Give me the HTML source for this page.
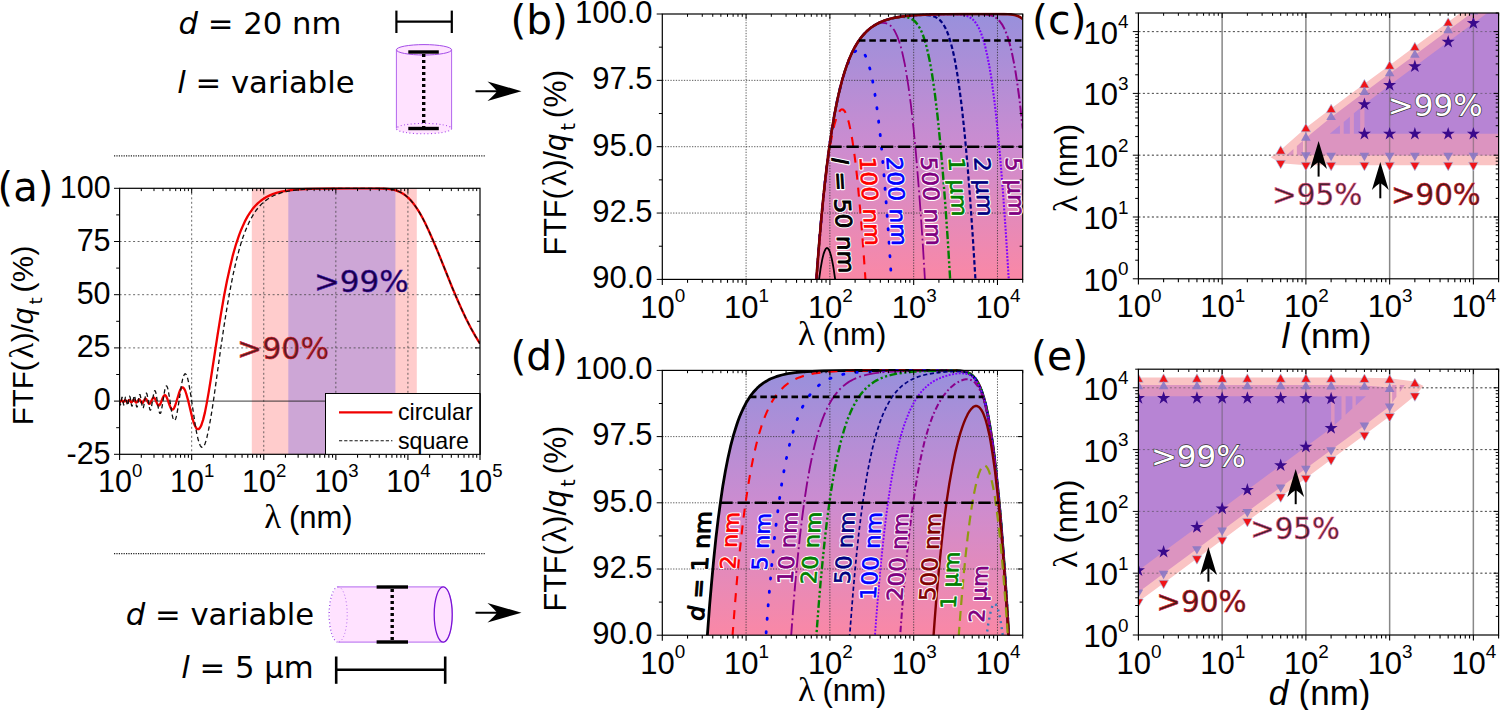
<!DOCTYPE html>
<html><head><meta charset="utf-8"><title>figure</title><style>html,body{margin:0;padding:0;background:#fff}svg{display:block}</style></head><body>
<svg width="1500" height="710" viewBox="0 0 1500 710">
<rect width="1500" height="710" fill="#fff"/>
<text x="178.60" y="34.20" font-family='"DejaVu Sans", "Liberation Sans", sans-serif' font-size="30.7" text-anchor="start" fill="#000" ><tspan font-style="italic">d</tspan> = 20 nm</text>
<text x="177.20" y="93.20" font-family='"DejaVu Sans", "Liberation Sans", sans-serif' font-size="30.7" text-anchor="start" fill="#000" ><tspan font-style="italic">l</tspan> = variable</text>
<line x1="396.40" y1="21.60" x2="451.80" y2="21.60" stroke="#000" stroke-width="2.2" />
<line x1="396.40" y1="10.60" x2="396.40" y2="33.00" stroke="#000" stroke-width="2.2" />
<line x1="451.80" y1="10.60" x2="451.80" y2="33.00" stroke="#000" stroke-width="2.2" />
<path d="M396.4,49.8 L396.4,128.6 A27.6,5.2 0 0 0 451.6,128.6 L451.6,49.8 A27.6,5.2 0 0 0 396.4,49.8Z" fill="#ffe2ff"/>
<line x1="396.40" y1="49.80" x2="396.40" y2="128.60" stroke="#b266ee" stroke-width="1" />
<line x1="451.60" y1="49.80" x2="451.60" y2="128.60" stroke="#b266ee" stroke-width="1" />
<ellipse cx="424" cy="49.8" rx="27.6" ry="5.2" fill="#ffe2ff" stroke="#a34de8" stroke-width="1"/>
<ellipse cx="424" cy="128.6" rx="27.6" ry="5.2" fill="none" stroke="#a040e8" stroke-width="1.1" stroke-dasharray="1 2.5"/>
<line x1="408.30" y1="52.00" x2="438.80" y2="52.00" stroke="#000" stroke-width="3.4" />
<line x1="408.30" y1="128.50" x2="438.80" y2="128.50" stroke="#000" stroke-width="3.4" />
<line x1="423.70" y1="54.00" x2="423.70" y2="127.00" stroke="#000" stroke-width="3.4" stroke-dasharray="3 3"/>
<line x1="475.5" y1="91.2" x2="509.5" y2="91.2" stroke="#000" stroke-width="2.1"/>
<path d="M521.5,91.2 L487.5,81.4 Q494.5,87.7 497.0,91.2 Q494.5,94.7 487.5,101.0 Z" fill="#000"/>
<line x1="114.00" y1="155.80" x2="485.00" y2="155.80" stroke="#222" stroke-width="1.2" stroke-dasharray="1.2 1.2"/>
<line x1="114.00" y1="553.60" x2="485.00" y2="553.60" stroke="#222" stroke-width="1.2" stroke-dasharray="1.2 1.2"/>
<text x="314.20" y="624.50" font-family='"DejaVu Sans", "Liberation Sans", sans-serif' font-size="30.7" text-anchor="end" fill="#000" ><tspan font-style="italic">d</tspan> = variable</text>
<text x="313.70" y="677.90" font-family='"DejaVu Sans", "Liberation Sans", sans-serif' font-size="30.7" text-anchor="end" fill="#000" ><tspan font-style="italic">l</tspan> = 5 &#181;m</text>
<path d="M338.2,586.9 L443.2,586.9 A9,27.600000000000023 0 0 1 443.2,642.1 L338.2,642.1 A9,27.600000000000023 0 0 1 338.2,586.9Z" fill="#ffe2ff" stroke="#b266ee" stroke-width="1"/>
<path d="M338.2,586.9 A9,27.600000000000023 0 0 1 338.2,642.1" fill="none" stroke="#b266ee" stroke-width="1" stroke-dasharray="1 2.5"/>
<path d="M338.2,586.9 A9,27.600000000000023 0 0 0 338.2,642.1" fill="none" stroke="#fff" stroke-width="1.6"/>
<path d="M338.2,586.9 A9,27.600000000000023 0 0 0 338.2,642.1" fill="none" stroke="#9a3ae6" stroke-width="1.2" stroke-dasharray="1 2.5"/>
<ellipse cx="443.2" cy="614.5" rx="9" ry="27.600000000000023" fill="#ffe2ff" stroke="#7a14d6" stroke-width="1.3"/>
<line x1="376.60" y1="587.00" x2="408.00" y2="587.00" stroke="#000" stroke-width="3.4" />
<line x1="376.60" y1="642.00" x2="408.00" y2="642.00" stroke="#000" stroke-width="3.4" />
<line x1="392.20" y1="589.00" x2="392.20" y2="640.00" stroke="#000" stroke-width="3.4" stroke-dasharray="3 3"/>
<line x1="336.20" y1="669.80" x2="445.20" y2="669.80" stroke="#000" stroke-width="2.6" />
<line x1="336.20" y1="656.50" x2="336.20" y2="683.80" stroke="#000" stroke-width="2.6" />
<line x1="445.20" y1="656.50" x2="445.20" y2="683.80" stroke="#000" stroke-width="2.6" />
<line x1="475.5" y1="612.7" x2="509.5" y2="612.7" stroke="#000" stroke-width="2.1"/>
<path d="M521.5,612.7 L487.5,602.9000000000001 Q494.5,609.2 497.0,612.7 Q494.5,616.2 487.5,622.5 Z" fill="#000"/>
<rect x="251.8" y="188.3" width="165.0" height="266.0" fill="#ffcccc"/>
<rect x="288.3" y="188.3" width="107.1" height="266.0" fill="#cda6d6"/>
<line x1="191.68" y1="188.30" x2="191.68" y2="454.30" stroke="#444" stroke-width="0.8" stroke-dasharray="2 2.5"/>
<line x1="263.76" y1="188.30" x2="263.76" y2="454.30" stroke="#444" stroke-width="0.8" stroke-dasharray="2 2.5"/>
<line x1="335.84" y1="188.30" x2="335.84" y2="454.30" stroke="#444" stroke-width="0.8" stroke-dasharray="2 2.5"/>
<line x1="407.92" y1="188.30" x2="407.92" y2="454.30" stroke="#444" stroke-width="0.8" stroke-dasharray="2 2.5"/>
<line x1="119.60" y1="241.50" x2="480.00" y2="241.50" stroke="#444" stroke-width="0.8" stroke-dasharray="2 2.5"/>
<line x1="119.60" y1="294.70" x2="480.00" y2="294.70" stroke="#444" stroke-width="0.8" stroke-dasharray="2 2.5"/>
<line x1="119.60" y1="347.90" x2="480.00" y2="347.90" stroke="#444" stroke-width="0.8" stroke-dasharray="2 2.5"/>
<line x1="119.60" y1="401.10" x2="480.00" y2="401.10" stroke="#222" stroke-width="0.9" />
<clipPath id="ca"><rect x="119.6" y="187.3" width="360.4" height="268.0"/></clipPath>
<g clip-path="url(#ca)">
<path d="M119.6,401.6 119.9,401.8 120.1,401.8 120.4,401.6 121.1,400.6 121.4,400.4 121.7,400.3 121.9,400.5 122.2,400.7 122.9,401.7 123.2,401.9 123.5,401.9 124.0,401.5 124.8,400.4 125.0,400.2 125.3,400.2 125.8,400.6 126.6,401.7 127.1,402.1 127.3,402.0 127.6,401.8 128.6,400.4 129.1,400.0 129.4,400.1 129.6,400.3 130.9,402.1 131.2,402.3 131.5,402.3 132.0,401.9 133.3,400.0 133.5,399.8 133.8,399.8 134.3,400.1 135.8,402.4 136.1,402.6 136.3,402.6 136.6,402.5 137.1,402.0 138.4,399.8 138.9,399.4 139.2,399.4 139.4,399.5 140.0,400.1 141.5,402.7 142.0,403.1 142.3,403.1 142.5,403.0 143.0,402.4 144.3,400.0 144.8,399.2 145.4,398.8 145.6,398.7 146.1,399.0 146.6,399.7 148.5,403.2 149.0,403.8 149.5,403.9 150.0,403.6 150.5,402.9 152.3,399.1 152.8,398.2 153.3,397.7 153.9,397.6 154.4,397.9 155.2,399.1 157.0,403.3 157.7,404.7 158.2,405.3 158.5,405.5 159.0,405.5 159.5,405.2 160.3,404.0 161.1,402.2 162.6,398.2 163.4,396.5 164.2,395.5 164.7,395.2 164.9,395.2 165.2,395.2 165.7,395.6 166.2,396.3 166.7,397.4 167.5,399.3 169.6,405.3 170.6,407.7 171.1,408.6 171.6,409.2 172.2,409.6 172.7,409.6 173.2,409.3 173.7,408.7 174.2,407.8 175.0,406.0 176.0,403.0 178.9,393.5 180.1,390.1 180.9,388.7 181.7,387.7 182.5,387.4 183.0,387.5 183.7,388.1 184.5,389.3 185.3,391.0 186.3,394.0 187.9,399.6 192.2,417.6 193.5,422.0 194.6,424.9 195.9,427.5 196.6,428.5 197.1,429.0 197.9,429.2 198.4,429.2 198.9,428.9 199.7,428.1 200.5,426.9 201.3,425.3 202.0,423.2 203.1,419.9 204.9,412.6 206.9,402.4 208.7,392.1 210.5,381.0 217.5,335.5 220.6,316.1 223.9,296.8 227.0,280.7 229.9,267.7 232.9,255.1 236.0,244.3 239.1,235.1 241.2,229.7 243.3,224.9 245.3,220.6 247.6,216.4 250.0,212.7 252.5,209.1 255.1,206.0 257.7,203.4 260.5,201.0 263.3,198.9 266.4,197.0 269.8,195.4 273.4,193.9 277.3,192.7 281.4,191.7 286.0,190.8 291.9,190.0 298.6,189.4 306.4,189.0 315.9,188.7 329.8,188.5 349.6,188.3 373.3,188.3 382.6,188.5 386.5,188.7 389.8,189.1 392.9,189.6 395.8,190.4 398.3,191.3 400.9,192.5 403.5,194.0 405.8,195.7 408.4,197.9 410.7,200.3 413.0,203.0 415.3,206.1 417.7,209.6 420.0,213.4 422.3,217.5 424.9,222.5 429.0,231.2 433.6,241.7 438.3,252.9 452.4,288.0 457.1,299.0 461.2,308.3 466.1,318.7 470.7,327.8 475.4,336.1 480.0,343.7" fill="none" stroke="#f00000" stroke-width="2.3" stroke-linejoin="round"/>
<path d="M119.6,401.1 120.1,404.0 120.4,404.6 120.6,404.2 120.9,403.1 121.7,398.4 121.9,397.5 122.2,397.5 122.4,398.3 123.5,404.4 123.7,404.9 124.0,404.8 124.2,403.8 125.3,397.7 125.5,397.1 125.8,397.1 126.0,397.9 126.3,399.2 127.1,404.1 127.3,405.1 127.6,405.5 127.8,405.1 128.1,404.2 129.1,397.9 129.4,396.8 129.6,396.4 129.9,396.7 130.2,397.5 131.5,405.1 131.7,405.9 132.0,406.1 132.2,405.7 132.5,404.8 133.8,397.0 134.0,396.1 134.3,395.7 134.5,395.9 134.8,396.6 136.3,405.6 136.6,406.5 136.9,407.0 137.1,406.9 137.4,406.3 137.6,405.3 139.2,396.0 139.4,395.1 139.7,394.7 140.0,394.7 140.2,395.2 140.7,397.4 141.8,404.1 142.3,406.8 142.5,407.7 142.8,408.2 143.0,408.2 143.3,407.8 143.8,405.9 145.6,395.0 146.1,393.4 146.4,393.1 146.6,393.3 146.9,393.8 147.4,395.8 149.0,405.6 149.5,408.2 150.0,409.8 150.3,410.1 150.5,410.1 150.8,409.7 151.0,409.0 151.5,406.8 153.1,396.9 153.9,392.8 154.4,391.2 154.6,390.8 154.9,390.7 155.2,390.9 155.4,391.3 155.7,392.1 156.2,394.3 158.2,407.3 159.0,411.2 159.5,412.8 159.8,413.2 160.0,413.4 160.3,413.4 160.6,413.1 161.1,411.8 161.8,408.3 164.2,393.4 164.9,389.4 165.7,386.8 166.2,386.1 166.5,386.0 166.7,386.1 167.3,387.0 167.8,388.6 168.3,390.8 169.3,396.7 171.4,410.3 172.4,415.9 172.9,417.9 173.4,419.4 174.0,420.3 174.2,420.5 174.5,420.5 174.7,420.4 175.0,420.2 175.2,419.8 175.8,418.5 176.3,416.7 177.0,413.1 178.1,407.1 181.2,386.7 181.9,382.5 182.7,378.9 183.5,376.3 184.3,374.5 184.8,373.9 185.0,373.8 185.5,373.9 185.8,374.1 186.3,374.8 187.1,376.6 187.9,379.3 188.9,384.0 190.7,394.6 195.3,425.4 196.6,432.6 197.9,438.6 198.7,441.4 199.5,443.8 200.2,445.5 200.7,446.3 201.3,446.9 202.0,447.3 202.3,447.3 202.8,447.1 203.6,446.4 204.4,445.1 205.1,443.4 205.9,441.1 206.9,437.4 208.7,429.2 210.5,419.3 212.1,409.7 213.9,397.6 220.8,348.0 223.9,326.8 227.3,305.7 230.4,288.3 233.2,274.1 236.3,260.5 239.4,248.8 240.9,243.6 242.7,238.0 244.8,232.3 246.9,227.2 249.2,222.1 251.5,217.7 253.8,213.8 256.4,210.0 259.0,206.8 261.5,204.1 264.4,201.5 267.5,199.2 270.6,197.3 273.9,195.5 277.5,194.1 281.6,192.7 286.0,191.7 290.7,190.8 296.3,190.0 303.0,189.4 310.7,189.0 319.8,188.7 333.4,188.5 353.0,188.3 374.1,188.3 382.9,188.5 386.7,188.7 390.1,189.1 393.2,189.7 396.0,190.5 398.6,191.4 401.2,192.6 403.7,194.2 406.1,195.9 408.4,197.9 410.7,200.3 413.0,203.0 415.3,206.1 417.7,209.6 420.0,213.4 422.3,217.5 424.9,222.5 429.0,231.2 433.6,241.7 438.3,252.9 452.4,288.0 457.1,299.0 461.2,308.3 466.1,318.7 470.7,327.8 475.4,336.1 480.0,343.7" fill="none" stroke="#111" stroke-width="1.3" stroke-dasharray="4.5 3"/>
</g>
<rect x="119.6" y="188.3" width="360.4" height="266.0" fill="none" stroke="#000" stroke-width="1.2"/>
<line x1="119.60" y1="454.30" x2="119.60" y2="459.90" stroke="#000" stroke-width="1.1" />
<line x1="141.30" y1="454.30" x2="141.30" y2="457.70" stroke="#000" stroke-width="1.1" />
<line x1="141.30" y1="188.30" x2="141.30" y2="191.10" stroke="#000" stroke-width="1" />
<line x1="153.99" y1="454.30" x2="153.99" y2="457.70" stroke="#000" stroke-width="1.1" />
<line x1="153.99" y1="188.30" x2="153.99" y2="191.10" stroke="#000" stroke-width="1" />
<line x1="163.00" y1="454.30" x2="163.00" y2="457.70" stroke="#000" stroke-width="1.1" />
<line x1="163.00" y1="188.30" x2="163.00" y2="191.10" stroke="#000" stroke-width="1" />
<line x1="169.98" y1="454.30" x2="169.98" y2="457.70" stroke="#000" stroke-width="1.1" />
<line x1="169.98" y1="188.30" x2="169.98" y2="191.10" stroke="#000" stroke-width="1" />
<line x1="175.69" y1="454.30" x2="175.69" y2="457.70" stroke="#000" stroke-width="1.1" />
<line x1="175.69" y1="188.30" x2="175.69" y2="191.10" stroke="#000" stroke-width="1" />
<line x1="180.51" y1="454.30" x2="180.51" y2="457.70" stroke="#000" stroke-width="1.1" />
<line x1="180.51" y1="188.30" x2="180.51" y2="191.10" stroke="#000" stroke-width="1" />
<line x1="184.69" y1="454.30" x2="184.69" y2="457.70" stroke="#000" stroke-width="1.1" />
<line x1="184.69" y1="188.30" x2="184.69" y2="191.10" stroke="#000" stroke-width="1" />
<line x1="188.38" y1="454.30" x2="188.38" y2="457.70" stroke="#000" stroke-width="1.1" />
<line x1="188.38" y1="188.30" x2="188.38" y2="191.10" stroke="#000" stroke-width="1" />
<line x1="191.68" y1="454.30" x2="191.68" y2="459.90" stroke="#000" stroke-width="1.1" />
<line x1="191.68" y1="188.30" x2="191.68" y2="193.30" stroke="#000" stroke-width="1" />
<line x1="213.38" y1="454.30" x2="213.38" y2="457.70" stroke="#000" stroke-width="1.1" />
<line x1="213.38" y1="188.30" x2="213.38" y2="191.10" stroke="#000" stroke-width="1" />
<line x1="226.07" y1="454.30" x2="226.07" y2="457.70" stroke="#000" stroke-width="1.1" />
<line x1="226.07" y1="188.30" x2="226.07" y2="191.10" stroke="#000" stroke-width="1" />
<line x1="235.08" y1="454.30" x2="235.08" y2="457.70" stroke="#000" stroke-width="1.1" />
<line x1="235.08" y1="188.30" x2="235.08" y2="191.10" stroke="#000" stroke-width="1" />
<line x1="242.06" y1="454.30" x2="242.06" y2="457.70" stroke="#000" stroke-width="1.1" />
<line x1="242.06" y1="188.30" x2="242.06" y2="191.10" stroke="#000" stroke-width="1" />
<line x1="247.77" y1="454.30" x2="247.77" y2="457.70" stroke="#000" stroke-width="1.1" />
<line x1="247.77" y1="188.30" x2="247.77" y2="191.10" stroke="#000" stroke-width="1" />
<line x1="252.59" y1="454.30" x2="252.59" y2="457.70" stroke="#000" stroke-width="1.1" />
<line x1="252.59" y1="188.30" x2="252.59" y2="191.10" stroke="#000" stroke-width="1" />
<line x1="256.77" y1="454.30" x2="256.77" y2="457.70" stroke="#000" stroke-width="1.1" />
<line x1="256.77" y1="188.30" x2="256.77" y2="191.10" stroke="#000" stroke-width="1" />
<line x1="260.46" y1="454.30" x2="260.46" y2="457.70" stroke="#000" stroke-width="1.1" />
<line x1="260.46" y1="188.30" x2="260.46" y2="191.10" stroke="#000" stroke-width="1" />
<line x1="263.76" y1="454.30" x2="263.76" y2="459.90" stroke="#000" stroke-width="1.1" />
<line x1="263.76" y1="188.30" x2="263.76" y2="193.30" stroke="#000" stroke-width="1" />
<line x1="285.46" y1="454.30" x2="285.46" y2="457.70" stroke="#000" stroke-width="1.1" />
<line x1="285.46" y1="188.30" x2="285.46" y2="191.10" stroke="#000" stroke-width="1" />
<line x1="298.15" y1="454.30" x2="298.15" y2="457.70" stroke="#000" stroke-width="1.1" />
<line x1="298.15" y1="188.30" x2="298.15" y2="191.10" stroke="#000" stroke-width="1" />
<line x1="307.16" y1="454.30" x2="307.16" y2="457.70" stroke="#000" stroke-width="1.1" />
<line x1="307.16" y1="188.30" x2="307.16" y2="191.10" stroke="#000" stroke-width="1" />
<line x1="314.14" y1="454.30" x2="314.14" y2="457.70" stroke="#000" stroke-width="1.1" />
<line x1="314.14" y1="188.30" x2="314.14" y2="191.10" stroke="#000" stroke-width="1" />
<line x1="319.85" y1="454.30" x2="319.85" y2="457.70" stroke="#000" stroke-width="1.1" />
<line x1="319.85" y1="188.30" x2="319.85" y2="191.10" stroke="#000" stroke-width="1" />
<line x1="324.67" y1="454.30" x2="324.67" y2="457.70" stroke="#000" stroke-width="1.1" />
<line x1="324.67" y1="188.30" x2="324.67" y2="191.10" stroke="#000" stroke-width="1" />
<line x1="328.85" y1="454.30" x2="328.85" y2="457.70" stroke="#000" stroke-width="1.1" />
<line x1="328.85" y1="188.30" x2="328.85" y2="191.10" stroke="#000" stroke-width="1" />
<line x1="332.54" y1="454.30" x2="332.54" y2="457.70" stroke="#000" stroke-width="1.1" />
<line x1="332.54" y1="188.30" x2="332.54" y2="191.10" stroke="#000" stroke-width="1" />
<line x1="335.84" y1="454.30" x2="335.84" y2="459.90" stroke="#000" stroke-width="1.1" />
<line x1="335.84" y1="188.30" x2="335.84" y2="193.30" stroke="#000" stroke-width="1" />
<line x1="357.54" y1="454.30" x2="357.54" y2="457.70" stroke="#000" stroke-width="1.1" />
<line x1="357.54" y1="188.30" x2="357.54" y2="191.10" stroke="#000" stroke-width="1" />
<line x1="370.23" y1="454.30" x2="370.23" y2="457.70" stroke="#000" stroke-width="1.1" />
<line x1="370.23" y1="188.30" x2="370.23" y2="191.10" stroke="#000" stroke-width="1" />
<line x1="379.24" y1="454.30" x2="379.24" y2="457.70" stroke="#000" stroke-width="1.1" />
<line x1="379.24" y1="188.30" x2="379.24" y2="191.10" stroke="#000" stroke-width="1" />
<line x1="386.22" y1="454.30" x2="386.22" y2="457.70" stroke="#000" stroke-width="1.1" />
<line x1="386.22" y1="188.30" x2="386.22" y2="191.10" stroke="#000" stroke-width="1" />
<line x1="391.93" y1="454.30" x2="391.93" y2="457.70" stroke="#000" stroke-width="1.1" />
<line x1="391.93" y1="188.30" x2="391.93" y2="191.10" stroke="#000" stroke-width="1" />
<line x1="396.75" y1="454.30" x2="396.75" y2="457.70" stroke="#000" stroke-width="1.1" />
<line x1="396.75" y1="188.30" x2="396.75" y2="191.10" stroke="#000" stroke-width="1" />
<line x1="400.93" y1="454.30" x2="400.93" y2="457.70" stroke="#000" stroke-width="1.1" />
<line x1="400.93" y1="188.30" x2="400.93" y2="191.10" stroke="#000" stroke-width="1" />
<line x1="404.62" y1="454.30" x2="404.62" y2="457.70" stroke="#000" stroke-width="1.1" />
<line x1="404.62" y1="188.30" x2="404.62" y2="191.10" stroke="#000" stroke-width="1" />
<line x1="407.92" y1="454.30" x2="407.92" y2="459.90" stroke="#000" stroke-width="1.1" />
<line x1="407.92" y1="188.30" x2="407.92" y2="193.30" stroke="#000" stroke-width="1" />
<line x1="429.62" y1="454.30" x2="429.62" y2="457.70" stroke="#000" stroke-width="1.1" />
<line x1="429.62" y1="188.30" x2="429.62" y2="191.10" stroke="#000" stroke-width="1" />
<line x1="442.31" y1="454.30" x2="442.31" y2="457.70" stroke="#000" stroke-width="1.1" />
<line x1="442.31" y1="188.30" x2="442.31" y2="191.10" stroke="#000" stroke-width="1" />
<line x1="451.32" y1="454.30" x2="451.32" y2="457.70" stroke="#000" stroke-width="1.1" />
<line x1="451.32" y1="188.30" x2="451.32" y2="191.10" stroke="#000" stroke-width="1" />
<line x1="458.30" y1="454.30" x2="458.30" y2="457.70" stroke="#000" stroke-width="1.1" />
<line x1="458.30" y1="188.30" x2="458.30" y2="191.10" stroke="#000" stroke-width="1" />
<line x1="464.01" y1="454.30" x2="464.01" y2="457.70" stroke="#000" stroke-width="1.1" />
<line x1="464.01" y1="188.30" x2="464.01" y2="191.10" stroke="#000" stroke-width="1" />
<line x1="468.83" y1="454.30" x2="468.83" y2="457.70" stroke="#000" stroke-width="1.1" />
<line x1="468.83" y1="188.30" x2="468.83" y2="191.10" stroke="#000" stroke-width="1" />
<line x1="473.01" y1="454.30" x2="473.01" y2="457.70" stroke="#000" stroke-width="1.1" />
<line x1="473.01" y1="188.30" x2="473.01" y2="191.10" stroke="#000" stroke-width="1" />
<line x1="476.70" y1="454.30" x2="476.70" y2="457.70" stroke="#000" stroke-width="1.1" />
<line x1="476.70" y1="188.30" x2="476.70" y2="191.10" stroke="#000" stroke-width="1" />
<line x1="480.00" y1="454.30" x2="480.00" y2="459.90" stroke="#000" stroke-width="1.1" />
<line x1="114.00" y1="188.30" x2="119.60" y2="188.30" stroke="#000" stroke-width="1" />
<line x1="116.20" y1="214.90" x2="119.60" y2="214.90" stroke="#000" stroke-width="1" />
<line x1="480.00" y1="214.90" x2="476.94" y2="214.90" stroke="#000" stroke-width="1" />
<line x1="114.00" y1="241.50" x2="119.60" y2="241.50" stroke="#000" stroke-width="1" />
<line x1="480.00" y1="241.50" x2="474.96" y2="241.50" stroke="#000" stroke-width="1" />
<line x1="116.20" y1="268.10" x2="119.60" y2="268.10" stroke="#000" stroke-width="1" />
<line x1="480.00" y1="268.10" x2="476.94" y2="268.10" stroke="#000" stroke-width="1" />
<line x1="114.00" y1="294.70" x2="119.60" y2="294.70" stroke="#000" stroke-width="1" />
<line x1="480.00" y1="294.70" x2="474.96" y2="294.70" stroke="#000" stroke-width="1" />
<line x1="116.20" y1="321.30" x2="119.60" y2="321.30" stroke="#000" stroke-width="1" />
<line x1="480.00" y1="321.30" x2="476.94" y2="321.30" stroke="#000" stroke-width="1" />
<line x1="114.00" y1="347.90" x2="119.60" y2="347.90" stroke="#000" stroke-width="1" />
<line x1="480.00" y1="347.90" x2="474.96" y2="347.90" stroke="#000" stroke-width="1" />
<line x1="116.20" y1="374.50" x2="119.60" y2="374.50" stroke="#000" stroke-width="1" />
<line x1="480.00" y1="374.50" x2="476.94" y2="374.50" stroke="#000" stroke-width="1" />
<line x1="114.00" y1="401.10" x2="119.60" y2="401.10" stroke="#000" stroke-width="1" />
<line x1="480.00" y1="401.10" x2="474.96" y2="401.10" stroke="#000" stroke-width="1" />
<line x1="116.20" y1="427.70" x2="119.60" y2="427.70" stroke="#000" stroke-width="1" />
<line x1="480.00" y1="427.70" x2="476.94" y2="427.70" stroke="#000" stroke-width="1" />
<line x1="114.00" y1="454.30" x2="119.60" y2="454.30" stroke="#000" stroke-width="1" />
<rect x="325.5" y="393.5" width="154.5" height="60.8" fill="#fff" stroke="#000" stroke-width="1"/>
<line x1="480.00" y1="393.50" x2="480.00" y2="454.30" stroke="#000" stroke-width="1.2" />
<line x1="339.00" y1="412.40" x2="392.40" y2="412.40" stroke="#f00000" stroke-width="2.2" />
<line x1="339.00" y1="440.80" x2="392.40" y2="440.80" stroke="#111" stroke-width="1.1" stroke-dasharray="3.2 2"/>
<text x="397.90" y="420.40" font-family='"Liberation Sans", Arial, sans-serif' font-size="23.2" text-anchor="start" fill="#000" >circular</text>
<text x="397.90" y="448.60" font-family='"Liberation Sans", Arial, sans-serif' font-size="23.2" text-anchor="start" fill="#000" >square</text>
<text x="110.60" y="197.60" font-family='"Liberation Sans", Arial, sans-serif' font-size="30.5" text-anchor="end" fill="#000" >100</text>
<text x="110.60" y="250.80" font-family='"Liberation Sans", Arial, sans-serif' font-size="30.5" text-anchor="end" fill="#000" >75</text>
<text x="110.60" y="304.00" font-family='"Liberation Sans", Arial, sans-serif' font-size="30.5" text-anchor="end" fill="#000" >50</text>
<text x="110.60" y="357.20" font-family='"Liberation Sans", Arial, sans-serif' font-size="30.5" text-anchor="end" fill="#000" >25</text>
<text x="110.60" y="410.40" font-family='"Liberation Sans", Arial, sans-serif' font-size="30.5" text-anchor="end" fill="#000" >0</text>
<text x="110.60" y="463.60" font-family='"Liberation Sans", Arial, sans-serif' font-size="30.5" text-anchor="end" fill="#000" >-25</text>
<text x="120.10" y="491.90" font-family='"Liberation Sans", Arial, sans-serif' font-size="30.5" text-anchor="middle" fill="#000">10<tspan font-size="18.6" dy="-15.2">0</tspan></text>
<text x="192.18" y="491.90" font-family='"Liberation Sans", Arial, sans-serif' font-size="30.5" text-anchor="middle" fill="#000">10<tspan font-size="18.6" dy="-15.2">1</tspan></text>
<text x="264.26" y="491.90" font-family='"Liberation Sans", Arial, sans-serif' font-size="30.5" text-anchor="middle" fill="#000">10<tspan font-size="18.6" dy="-15.2">2</tspan></text>
<text x="336.34" y="491.90" font-family='"Liberation Sans", Arial, sans-serif' font-size="30.5" text-anchor="middle" fill="#000">10<tspan font-size="18.6" dy="-15.2">3</tspan></text>
<text x="408.42" y="491.90" font-family='"Liberation Sans", Arial, sans-serif' font-size="30.5" text-anchor="middle" fill="#000">10<tspan font-size="18.6" dy="-15.2">4</tspan></text>
<text x="480.50" y="491.90" font-family='"Liberation Sans", Arial, sans-serif' font-size="30.5" text-anchor="middle" fill="#000">10<tspan font-size="18.6" dy="-15.2">5</tspan></text>
<text x="237.10" y="358.80" font-family='"DejaVu Sans", "Liberation Sans", sans-serif' font-size="30" text-anchor="start" fill="#5a1c22" stroke="#e02030" stroke-width="0.6">&gt;90%</text>
<text x="313.90" y="291.60" font-family='"DejaVu Sans", "Liberation Sans", sans-serif' font-size="31" text-anchor="start" fill="#160048" stroke="#4a18b0" stroke-width="0.55">&gt;99%</text>
<text x="-2.40" y="200.60" font-family='"DejaVu Sans", "Liberation Sans", sans-serif' font-size="40" text-anchor="start" fill="#000" >(a)</text>
<g transform="translate(33.20,425.20) rotate(-90)" font-family='"Liberation Sans", Arial, sans-serif' font-size="29.5" fill="#000"><text x="0" y="0">FTF(</text><text x="66.54" y="0" font-family='"Liberation Serif", "DejaVu Serif", serif' font-size="33.0">&#955;</text><text x="82.99" y="0">)/</text><text x="100.88" y="0" font-style="italic">q</text><text x="120.71" y="8.32" font-family='"DejaVu Sans", "Liberation Sans", sans-serif' font-size="18.3">t</text><text x="132.70" y="0" letter-spacing="0.5">(%)</text></g>
<g transform="translate(264.30,528.20) rotate(0)" font-family='"Liberation Sans", Arial, sans-serif' font-size="31" fill="#000"><text x="0" y="0" font-family='"Liberation Serif", "DejaVu Serif", serif' font-size="34.7">&#955;</text><text x="24.60" y="0">(nm)</text></g>
<linearGradient id="gb" gradientUnits="userSpaceOnUse" x1="0" y1="14.0" x2="0" y2="279.4"><stop offset="0" stop-color="#9890dc"/><stop offset="0.5" stop-color="#cc8cd0"/><stop offset="1" stop-color="#fa88a6"/></linearGradient>
<clipPath id="cb"><rect x="662.3" y="12.5" width="360.4000000000001" height="266.9"/></clipPath>
<g clip-path="url(#cb)">
<path d="M815.6,279.4 815.6,291.5 817.8,260.2 820.3,229.7 822.8,202.9 825.5,177.4 827.5,160.5 829.5,145.3 831.8,130.2 834.0,116.8 836.5,103.9 839.2,91.6 841.9,81.0 844.9,71.1 846.4,66.4 848.0,62.1 849.6,58.1 851.2,54.4 852.8,51.1 854.6,47.6 856.4,44.5 858.4,41.3 860.0,39.0 861.8,36.6 863.6,34.5 865.6,32.4 867.4,30.6 869.4,28.9 871.5,27.3 873.7,25.8 876.0,24.4 878.4,23.1 880.9,21.9 883.4,20.9 886.1,20.0 888.8,19.1 894.9,17.7 901.2,16.6 908.2,15.8 916.3,15.1 925.8,14.7 936.6,14.4 950.1,14.2 993.6,14.0 1006.5,14.2 1010.3,14.4 1013.2,14.8 1015.9,15.4 1018.4,16.3 1020.7,17.5 1022.7,19.0 1022.7,279.4Z" fill="url(#gb)"/>
<line x1="746.09" y1="14.00" x2="746.09" y2="279.40" stroke="#333" stroke-width="0.8" stroke-dasharray="1.3 1.4"/>
<line x1="829.89" y1="14.00" x2="829.89" y2="279.40" stroke="#333" stroke-width="0.8" stroke-dasharray="1.3 1.4"/>
<line x1="913.68" y1="14.00" x2="913.68" y2="279.40" stroke="#333" stroke-width="0.8" stroke-dasharray="1.3 1.4"/>
<line x1="997.48" y1="14.00" x2="997.48" y2="279.40" stroke="#333" stroke-width="0.8" stroke-dasharray="1.3 1.4"/>
<line x1="662.30" y1="80.35" x2="1022.70" y2="80.35" stroke="#333" stroke-width="0.8" stroke-dasharray="1.3 1.4"/>
<line x1="662.30" y1="146.70" x2="1022.70" y2="146.70" stroke="#333" stroke-width="0.8" stroke-dasharray="1.3 1.4"/>
<line x1="662.30" y1="213.05" x2="1022.70" y2="213.05" stroke="#333" stroke-width="0.8" stroke-dasharray="1.3 1.4"/>
<path d="M814.2,330.9 815.8,311.5 817.4,294.8 818.9,280.7 820.5,269.1 822.1,260.1 822.8,257.0 823.7,253.6 824.4,251.6 825.3,249.6 825.7,248.9 826.2,248.4 826.6,248.1 827.1,248.0 827.7,248.3 828.2,248.7 828.6,249.3 829.3,250.5 830.2,252.9 830.9,255.2 831.8,258.9 832.7,263.5 833.6,268.7 835.2,279.7 837.0,295.1 838.6,310.9 840.4,331.6" fill="none" stroke="#000" stroke-width="1.8" stroke-linejoin="round"/>
<path d="M813.1,330.5 814.7,305.3 816.5,278.8 818.0,257.7 819.8,235.6 821.7,215.6 823.5,197.6 825.3,181.4 827.1,166.9 828.9,154.1 830.9,141.6 832.9,131.2 834.7,123.6 835.9,119.6 836.8,116.9 837.7,114.6 838.6,112.7 839.5,111.2 840.4,110.2 841.3,109.5 842.2,109.4 843.1,109.6 844.0,110.3 844.9,111.5 845.5,112.7 846.4,114.7 847.3,117.2 848.9,122.7 850.7,130.9 852.3,139.9 853.9,150.5 855.5,162.7 857.3,178.8 858.8,194.8 860.4,212.4 862.0,231.8 863.6,252.9 865.2,275.7 868.5,330.1" fill="none" stroke="#ff0000" stroke-width="2.1" stroke-dasharray="9 8" stroke-linejoin="round"/>
<path d="M813.1,330.4 815.1,298.2 817.4,266.2 819.6,237.7 821.9,212.3 824.4,187.6 826.8,165.9 829.5,145.3 832.2,127.4 833.8,118.1 835.4,109.6 837.0,101.8 838.6,94.6 840.1,88.1 841.9,81.3 843.5,75.9 845.3,70.4 847.1,65.5 848.9,61.3 850.7,57.6 852.3,55.0 854.1,52.6 855.7,51.0 856.6,50.4 857.5,49.9 858.4,49.7 859.1,49.6 859.7,49.7 860.4,49.9 861.8,50.7 863.1,52.0 864.3,53.6 865.6,56.1 866.7,58.7 868.1,62.4 869.2,66.1 870.3,70.4 871.5,75.2 872.6,80.7 873.7,86.8 876.0,100.9 878.0,116.1 880.3,135.7 882.3,156.0 884.3,178.9 886.3,204.4 888.4,232.5 890.4,263.2 892.4,296.5 894.5,332.2" fill="none" stroke="#0000ff" stroke-width="2.8" stroke-dasharray="1.2 12.3" stroke-linecap="round" stroke-linejoin="round"/>
<path d="M813.1,330.4 815.8,288.2 818.5,251.5 821.4,217.1 823.0,200.7 824.6,185.5 826.2,171.5 827.7,158.7 829.3,146.9 831.1,134.5 832.9,123.3 834.7,113.1 836.5,103.9 838.6,94.5 840.6,86.1 842.6,78.6 844.9,71.1 847.1,64.5 849.4,58.6 851.9,53.0 854.3,48.0 857.0,43.3 860.0,39.0 863.1,35.0 866.3,31.7 869.7,28.8 871.5,27.4 873.3,26.2 875.1,25.2 876.9,24.4 878.7,23.7 880.3,23.2 881.8,22.9 883.2,22.8 885.4,23.1 887.5,23.7 889.3,24.7 891.1,26.2 892.9,28.3 894.5,30.6 896.0,33.6 897.6,37.2 899.2,41.5 900.5,45.9 901.9,50.9 903.2,56.7 904.6,63.2 905.9,70.5 908.4,86.1 910.9,104.9 913.4,127.1 915.9,152.8 918.1,179.5 920.4,209.2 922.9,245.6 925.3,285.8 927.8,329.7" fill="none" stroke="#8b008b" stroke-width="1.8" stroke-dasharray="16 3.2 1.8 3.2" stroke-linejoin="round"/>
<path d="M813.1,330.4 816.0,285.0 817.6,263.2 819.2,243.1 820.7,224.6 822.6,205.2 824.4,187.6 826.2,171.5 828.0,157.0 829.8,143.7 831.8,130.2 833.8,118.1 835.9,107.3 838.1,96.5 840.4,87.0 842.8,77.8 845.1,70.4 847.6,63.2 850.3,56.5 853.0,50.6 855.9,45.2 858.8,40.6 862.0,36.4 865.4,32.6 867.2,30.8 869.0,29.2 870.8,27.8 872.8,26.4 874.8,25.1 877.1,23.8 881.6,21.6 884.1,20.7 886.8,19.7 889.5,19.0 892.4,18.2 895.4,17.7 898.1,17.3 900.5,17.0 902.8,16.9 905.7,17.1 908.2,17.6 910.5,18.3 912.7,19.6 914.7,21.2 916.5,23.1 918.3,25.6 920.1,28.7 922.0,32.6 923.5,36.7 925.1,41.6 926.5,46.5 928.0,53.0 929.4,59.4 930.7,66.5 932.1,74.5 933.4,83.4 934.8,93.2 937.5,115.7 940.2,142.4 942.7,170.6 945.4,205.7 947.9,241.9 950.3,281.9 953.1,329.6" fill="none" stroke="#008000" stroke-width="2.4" stroke-dasharray="8.2 2.4 2.2 2.4 2.2 2.4" stroke-linejoin="round"/>
<path d="M813.1,330.4 814.7,305.1 816.5,278.6 818.0,257.3 819.8,235.0 821.7,214.7 823.5,196.2 825.5,177.4 827.5,160.5 829.5,145.3 831.8,130.2 834.0,116.8 836.3,105.0 838.6,94.5 841.0,84.3 843.7,74.7 846.4,66.4 849.1,59.2 852.1,52.5 855.0,46.8 858.2,41.6 859.7,39.3 861.5,36.9 863.3,34.8 865.2,32.8 867.0,31.0 869.0,29.2 871.0,27.6 873.0,26.2 875.1,24.9 877.3,23.6 879.6,22.5 882.1,21.4 884.5,20.5 887.2,19.6 892.9,18.1 899.4,16.9 906.6,15.9 915.2,15.2 922.9,14.9 926.9,15.1 930.1,15.4 933.0,16.1 935.5,17.1 937.7,18.4 939.8,20.0 941.8,22.3 943.6,24.8 945.4,28.0 947.2,32.0 948.8,36.2 950.3,41.2 951.9,47.0 953.3,52.7 954.9,60.2 956.2,67.6 957.8,77.2 959.1,86.4 960.7,98.3 962.1,109.6 964.8,135.3 967.5,165.2 970.2,199.7 972.9,238.6 975.6,282.1 978.3,329.9" fill="none" stroke="#000080" stroke-width="2.2" stroke-dasharray="4.5 2.5" stroke-linejoin="round"/>
<path d="M813.1,330.4 814.9,301.6 816.7,275.4 818.5,251.5 820.5,227.2 822.6,205.2 824.6,185.5 826.6,167.8 828.9,150.2 831.1,134.5 833.6,119.4 836.1,106.1 838.6,94.5 841.3,83.5 844.2,73.2 845.8,68.3 847.3,63.9 848.9,59.7 850.5,56.0 852.1,52.5 853.7,49.3 856.8,43.7 858.4,41.3 860.2,38.7 862.0,36.4 863.8,34.3 865.6,32.4 867.6,30.4 869.7,28.7 871.9,27.0 874.2,25.5 876.6,24.0 879.1,22.7 881.6,21.6 884.1,20.7 886.8,19.7 892.4,18.2 899.0,16.9 906.2,16.0 914.5,15.3 924.2,14.7 936.4,14.4 950.1,14.2 955.5,14.3 959.6,14.5 963.0,14.9 965.7,15.5 968.4,16.5 970.6,17.8 972.7,19.4 974.7,21.5 976.7,24.3 978.5,27.4 980.3,31.3 981.9,35.5 983.5,40.3 985.1,46.0 986.6,52.6 988.2,60.2 989.8,68.8 991.4,78.6 992.9,89.7 994.3,100.1 995.9,113.6 997.2,126.3 1000.2,157.4 1003.1,193.7 1005.8,232.0 1008.7,278.5 1011.7,330.1" fill="none" stroke="#8000ff" stroke-width="2.1" stroke-dasharray="1.9 1.5" stroke-linejoin="round"/>
<path d="M813.1,330.4 815.3,294.9 817.8,260.2 820.3,229.7 822.8,202.9 825.5,177.4 828.2,155.2 831.1,134.5 834.0,116.8 835.6,108.4 837.2,100.7 838.8,93.5 840.6,86.1 842.4,79.3 844.2,73.2 846.0,67.7 848.0,62.1 850.1,57.0 852.1,52.5 854.3,48.0 856.6,44.1 858.8,40.6 861.3,37.2 863.8,34.3 866.5,31.5 870.1,28.3 872.1,26.8 874.2,25.5 876.2,24.3 878.4,23.1 883.0,21.1 887.9,19.4 893.3,18.0 899.4,16.9 906.2,16.0 911.6,15.5 917.7,15.1 932.1,14.5 953.3,14.1 978.3,14.1 984.4,14.4 986.6,14.6 988.7,14.9 990.5,15.3 992.3,15.9 993.8,16.6 995.4,17.5 997.7,19.1 998.8,20.2 999.9,21.5 1002.0,24.3 1004.0,27.9 1005.8,31.9 1007.6,36.8 1009.2,41.9 1010.8,47.8 1012.3,54.7 1013.9,62.6 1015.5,71.6 1016.8,80.2 1018.4,91.5 1019.8,102.1 1021.3,115.8 1022.7,128.7" fill="none" stroke="#8b008b" stroke-width="2.0" stroke-dasharray="10.8 2.6 1.8 2.6" stroke-linejoin="round"/>
<path d="M813.1,330.4 815.1,298.2 817.1,269.2 819.4,240.4 821.7,214.7 823.9,191.8 826.4,169.6 828.9,150.2 831.6,131.6 834.3,115.6 837.2,100.7 838.8,93.5 840.4,87.0 841.9,81.0 843.5,75.5 845.1,70.4 846.9,65.1 848.7,60.3 850.5,56.0 852.3,52.0 854.3,48.0 856.4,44.5 858.4,41.3 860.2,38.7 862.2,36.1 864.3,33.8 866.5,31.5 868.8,29.4 871.2,27.5 873.7,25.8 876.2,24.3 878.9,22.8 881.6,21.6 884.5,20.5 887.7,19.5 891.1,18.5 894.5,17.8 898.1,17.1 902.1,16.5 908.7,15.7 915.9,15.2 924.2,14.7 934.1,14.4 946.5,14.2 962.5,14.1 993.2,14.0 1004.0,14.1 1007.8,14.2 1010.8,14.4 1013.2,14.8 1015.5,15.3 1017.5,15.9 1019.3,16.7 1021.1,17.8 1022.7,19.0" fill="none" stroke="#800000" stroke-width="2.6" stroke-linejoin="round"/>
<line x1="858.88" y1="40.54" x2="1022.70" y2="40.54" stroke="#000" stroke-width="2.6" stroke-dasharray="6.6 3.8"/>
<line x1="829.34" y1="146.70" x2="1022.70" y2="146.70" stroke="#000" stroke-width="2.5" stroke-dasharray="12.3 4.9"/>
</g>
<rect x="662.3" y="14.0" width="360.4" height="265.4" fill="none" stroke="#000" stroke-width="1.2"/>
<line x1="662.30" y1="279.40" x2="662.30" y2="285.00" stroke="#000" stroke-width="1.1" />
<line x1="687.52" y1="279.40" x2="687.52" y2="282.80" stroke="#000" stroke-width="1.1" />
<line x1="687.52" y1="14.00" x2="687.52" y2="16.80" stroke="#000" stroke-width="1" />
<line x1="702.28" y1="279.40" x2="702.28" y2="282.80" stroke="#000" stroke-width="1.1" />
<line x1="702.28" y1="14.00" x2="702.28" y2="16.80" stroke="#000" stroke-width="1" />
<line x1="712.75" y1="279.40" x2="712.75" y2="282.80" stroke="#000" stroke-width="1.1" />
<line x1="712.75" y1="14.00" x2="712.75" y2="16.80" stroke="#000" stroke-width="1" />
<line x1="720.87" y1="279.40" x2="720.87" y2="282.80" stroke="#000" stroke-width="1.1" />
<line x1="720.87" y1="14.00" x2="720.87" y2="16.80" stroke="#000" stroke-width="1" />
<line x1="727.50" y1="279.40" x2="727.50" y2="282.80" stroke="#000" stroke-width="1.1" />
<line x1="727.50" y1="14.00" x2="727.50" y2="16.80" stroke="#000" stroke-width="1" />
<line x1="733.11" y1="279.40" x2="733.11" y2="282.80" stroke="#000" stroke-width="1.1" />
<line x1="733.11" y1="14.00" x2="733.11" y2="16.80" stroke="#000" stroke-width="1" />
<line x1="737.97" y1="279.40" x2="737.97" y2="282.80" stroke="#000" stroke-width="1.1" />
<line x1="737.97" y1="14.00" x2="737.97" y2="16.80" stroke="#000" stroke-width="1" />
<line x1="742.26" y1="279.40" x2="742.26" y2="282.80" stroke="#000" stroke-width="1.1" />
<line x1="742.26" y1="14.00" x2="742.26" y2="16.80" stroke="#000" stroke-width="1" />
<line x1="746.09" y1="279.40" x2="746.09" y2="285.00" stroke="#000" stroke-width="1.1" />
<line x1="746.09" y1="14.00" x2="746.09" y2="19.00" stroke="#000" stroke-width="1" />
<line x1="771.32" y1="279.40" x2="771.32" y2="282.80" stroke="#000" stroke-width="1.1" />
<line x1="771.32" y1="14.00" x2="771.32" y2="16.80" stroke="#000" stroke-width="1" />
<line x1="786.07" y1="279.40" x2="786.07" y2="282.80" stroke="#000" stroke-width="1.1" />
<line x1="786.07" y1="14.00" x2="786.07" y2="16.80" stroke="#000" stroke-width="1" />
<line x1="796.54" y1="279.40" x2="796.54" y2="282.80" stroke="#000" stroke-width="1.1" />
<line x1="796.54" y1="14.00" x2="796.54" y2="16.80" stroke="#000" stroke-width="1" />
<line x1="804.66" y1="279.40" x2="804.66" y2="282.80" stroke="#000" stroke-width="1.1" />
<line x1="804.66" y1="14.00" x2="804.66" y2="16.80" stroke="#000" stroke-width="1" />
<line x1="811.30" y1="279.40" x2="811.30" y2="282.80" stroke="#000" stroke-width="1.1" />
<line x1="811.30" y1="14.00" x2="811.30" y2="16.80" stroke="#000" stroke-width="1" />
<line x1="816.91" y1="279.40" x2="816.91" y2="282.80" stroke="#000" stroke-width="1.1" />
<line x1="816.91" y1="14.00" x2="816.91" y2="16.80" stroke="#000" stroke-width="1" />
<line x1="821.77" y1="279.40" x2="821.77" y2="282.80" stroke="#000" stroke-width="1.1" />
<line x1="821.77" y1="14.00" x2="821.77" y2="16.80" stroke="#000" stroke-width="1" />
<line x1="826.05" y1="279.40" x2="826.05" y2="282.80" stroke="#000" stroke-width="1.1" />
<line x1="826.05" y1="14.00" x2="826.05" y2="16.80" stroke="#000" stroke-width="1" />
<line x1="829.89" y1="279.40" x2="829.89" y2="285.00" stroke="#000" stroke-width="1.1" />
<line x1="829.89" y1="14.00" x2="829.89" y2="19.00" stroke="#000" stroke-width="1" />
<line x1="855.11" y1="279.40" x2="855.11" y2="282.80" stroke="#000" stroke-width="1.1" />
<line x1="855.11" y1="14.00" x2="855.11" y2="16.80" stroke="#000" stroke-width="1" />
<line x1="869.87" y1="279.40" x2="869.87" y2="282.80" stroke="#000" stroke-width="1.1" />
<line x1="869.87" y1="14.00" x2="869.87" y2="16.80" stroke="#000" stroke-width="1" />
<line x1="880.34" y1="279.40" x2="880.34" y2="282.80" stroke="#000" stroke-width="1.1" />
<line x1="880.34" y1="14.00" x2="880.34" y2="16.80" stroke="#000" stroke-width="1" />
<line x1="888.46" y1="279.40" x2="888.46" y2="282.80" stroke="#000" stroke-width="1.1" />
<line x1="888.46" y1="14.00" x2="888.46" y2="16.80" stroke="#000" stroke-width="1" />
<line x1="895.09" y1="279.40" x2="895.09" y2="282.80" stroke="#000" stroke-width="1.1" />
<line x1="895.09" y1="14.00" x2="895.09" y2="16.80" stroke="#000" stroke-width="1" />
<line x1="900.70" y1="279.40" x2="900.70" y2="282.80" stroke="#000" stroke-width="1.1" />
<line x1="900.70" y1="14.00" x2="900.70" y2="16.80" stroke="#000" stroke-width="1" />
<line x1="905.56" y1="279.40" x2="905.56" y2="282.80" stroke="#000" stroke-width="1.1" />
<line x1="905.56" y1="14.00" x2="905.56" y2="16.80" stroke="#000" stroke-width="1" />
<line x1="909.85" y1="279.40" x2="909.85" y2="282.80" stroke="#000" stroke-width="1.1" />
<line x1="909.85" y1="14.00" x2="909.85" y2="16.80" stroke="#000" stroke-width="1" />
<line x1="913.68" y1="279.40" x2="913.68" y2="285.00" stroke="#000" stroke-width="1.1" />
<line x1="913.68" y1="14.00" x2="913.68" y2="19.00" stroke="#000" stroke-width="1" />
<line x1="938.91" y1="279.40" x2="938.91" y2="282.80" stroke="#000" stroke-width="1.1" />
<line x1="938.91" y1="14.00" x2="938.91" y2="16.80" stroke="#000" stroke-width="1" />
<line x1="953.66" y1="279.40" x2="953.66" y2="282.80" stroke="#000" stroke-width="1.1" />
<line x1="953.66" y1="14.00" x2="953.66" y2="16.80" stroke="#000" stroke-width="1" />
<line x1="964.13" y1="279.40" x2="964.13" y2="282.80" stroke="#000" stroke-width="1.1" />
<line x1="964.13" y1="14.00" x2="964.13" y2="16.80" stroke="#000" stroke-width="1" />
<line x1="972.25" y1="279.40" x2="972.25" y2="282.80" stroke="#000" stroke-width="1.1" />
<line x1="972.25" y1="14.00" x2="972.25" y2="16.80" stroke="#000" stroke-width="1" />
<line x1="978.89" y1="279.40" x2="978.89" y2="282.80" stroke="#000" stroke-width="1.1" />
<line x1="978.89" y1="14.00" x2="978.89" y2="16.80" stroke="#000" stroke-width="1" />
<line x1="984.50" y1="279.40" x2="984.50" y2="282.80" stroke="#000" stroke-width="1.1" />
<line x1="984.50" y1="14.00" x2="984.50" y2="16.80" stroke="#000" stroke-width="1" />
<line x1="989.36" y1="279.40" x2="989.36" y2="282.80" stroke="#000" stroke-width="1.1" />
<line x1="989.36" y1="14.00" x2="989.36" y2="16.80" stroke="#000" stroke-width="1" />
<line x1="993.64" y1="279.40" x2="993.64" y2="282.80" stroke="#000" stroke-width="1.1" />
<line x1="993.64" y1="14.00" x2="993.64" y2="16.80" stroke="#000" stroke-width="1" />
<line x1="997.48" y1="279.40" x2="997.48" y2="285.00" stroke="#000" stroke-width="1.1" />
<line x1="997.48" y1="14.00" x2="997.48" y2="19.00" stroke="#000" stroke-width="1" />
<line x1="1022.70" y1="279.40" x2="1022.70" y2="282.80" stroke="#000" stroke-width="1.1" />
<line x1="1022.70" y1="14.00" x2="1022.70" y2="16.80" stroke="#000" stroke-width="1" />
<line x1="656.70" y1="14.00" x2="662.30" y2="14.00" stroke="#000" stroke-width="1" />
<line x1="658.90" y1="47.17" x2="662.30" y2="47.17" stroke="#000" stroke-width="1" />
<line x1="1022.70" y1="47.17" x2="1019.64" y2="47.17" stroke="#000" stroke-width="1" />
<line x1="656.70" y1="80.35" x2="662.30" y2="80.35" stroke="#000" stroke-width="1" />
<line x1="1022.70" y1="80.35" x2="1017.66" y2="80.35" stroke="#000" stroke-width="1" />
<line x1="658.90" y1="113.52" x2="662.30" y2="113.52" stroke="#000" stroke-width="1" />
<line x1="1022.70" y1="113.52" x2="1019.64" y2="113.52" stroke="#000" stroke-width="1" />
<line x1="656.70" y1="146.70" x2="662.30" y2="146.70" stroke="#000" stroke-width="1" />
<line x1="1022.70" y1="146.70" x2="1017.66" y2="146.70" stroke="#000" stroke-width="1" />
<line x1="658.90" y1="179.87" x2="662.30" y2="179.87" stroke="#000" stroke-width="1" />
<line x1="1022.70" y1="179.87" x2="1019.64" y2="179.87" stroke="#000" stroke-width="1" />
<line x1="656.70" y1="213.05" x2="662.30" y2="213.05" stroke="#000" stroke-width="1" />
<line x1="1022.70" y1="213.05" x2="1017.66" y2="213.05" stroke="#000" stroke-width="1" />
<line x1="658.90" y1="246.22" x2="662.30" y2="246.22" stroke="#000" stroke-width="1" />
<line x1="1022.70" y1="246.22" x2="1019.64" y2="246.22" stroke="#000" stroke-width="1" />
<line x1="656.70" y1="279.40" x2="662.30" y2="279.40" stroke="#000" stroke-width="1" />
<text x="652.60" y="22.80" font-family='"Liberation Sans", Arial, sans-serif' font-size="31" text-anchor="end" fill="#000" >100.0</text>
<text x="652.60" y="89.15" font-family='"Liberation Sans", Arial, sans-serif' font-size="31" text-anchor="end" fill="#000" >97.5</text>
<text x="652.60" y="155.50" font-family='"Liberation Sans", Arial, sans-serif' font-size="31" text-anchor="end" fill="#000" >95.0</text>
<text x="652.60" y="221.85" font-family='"Liberation Sans", Arial, sans-serif' font-size="31" text-anchor="end" fill="#000" >92.5</text>
<text x="652.60" y="288.20" font-family='"Liberation Sans", Arial, sans-serif' font-size="31" text-anchor="end" fill="#000" >90.0</text>
<text x="662.80" y="317.90" font-family='"Liberation Sans", Arial, sans-serif' font-size="31" text-anchor="middle" fill="#000">10<tspan font-size="18.9" dy="-15.5">0</tspan></text>
<text x="746.59" y="317.90" font-family='"Liberation Sans", Arial, sans-serif' font-size="31" text-anchor="middle" fill="#000">10<tspan font-size="18.9" dy="-15.5">1</tspan></text>
<text x="830.39" y="317.90" font-family='"Liberation Sans", Arial, sans-serif' font-size="31" text-anchor="middle" fill="#000">10<tspan font-size="18.9" dy="-15.5">2</tspan></text>
<text x="914.18" y="317.90" font-family='"Liberation Sans", Arial, sans-serif' font-size="31" text-anchor="middle" fill="#000">10<tspan font-size="18.9" dy="-15.5">3</tspan></text>
<text x="997.98" y="317.90" font-family='"Liberation Sans", Arial, sans-serif' font-size="31" text-anchor="middle" fill="#000">10<tspan font-size="18.9" dy="-15.5">4</tspan></text>
<text transform="translate(831.60 157.50) skewX(3.7) rotate(90) scale(1.055 1)" font-family='"DejaVu Sans", "Liberation Sans", sans-serif' font-size="22.2" fill="#fff" stroke="#fff" stroke-width="2.9" stroke-linejoin="round"><tspan font-style="italic">l</tspan> = 50 nm</text>
<text transform="translate(831.60 157.50) skewX(3.7) rotate(90) scale(1.055 1)" font-family='"DejaVu Sans", "Liberation Sans", sans-serif' font-size="22.2" fill="#000" stroke="#000" stroke-width="0.9" stroke-linejoin="round"><tspan font-style="italic">l</tspan> = 50 nm</text>
<text transform="translate(859.60 156.50) skewX(3.7) rotate(90) scale(1.055 1)" font-family='"DejaVu Sans", "Liberation Sans", sans-serif' font-size="22.1" fill="#fff" stroke="#fff" stroke-width="2.6" stroke-linejoin="round">100 nm</text>
<text transform="translate(859.60 156.50) skewX(3.7) rotate(90) scale(1.055 1)" font-family='"DejaVu Sans", "Liberation Sans", sans-serif' font-size="22.1" fill="#ff0000" stroke="#ff0000" stroke-width="0.6" stroke-linejoin="round">100 nm</text>
<text transform="translate(886.20 156.50) skewX(3.7) rotate(90) scale(1.055 1)" font-family='"DejaVu Sans", "Liberation Sans", sans-serif' font-size="22.1" fill="#fff" stroke="#fff" stroke-width="2.6" stroke-linejoin="round">200 nm</text>
<text transform="translate(886.20 156.50) skewX(3.7) rotate(90) scale(1.055 1)" font-family='"DejaVu Sans", "Liberation Sans", sans-serif' font-size="22.1" fill="#0000ff" stroke="#0000ff" stroke-width="0.6" stroke-linejoin="round">200 nm</text>
<text transform="translate(920.80 156.50) skewX(3.7) rotate(90) scale(1.055 1)" font-family='"DejaVu Sans", "Liberation Sans", sans-serif' font-size="22.1" fill="#fff" stroke="#fff" stroke-width="2.6" stroke-linejoin="round">500 nm</text>
<text transform="translate(920.80 156.50) skewX(3.7) rotate(90) scale(1.055 1)" font-family='"DejaVu Sans", "Liberation Sans", sans-serif' font-size="22.1" fill="#800080" stroke="#800080" stroke-width="0.6" stroke-linejoin="round">500 nm</text>
<text transform="translate(948.40 157.00) skewX(3.7) rotate(90) scale(1.055 1)" font-family='"DejaVu Sans", "Liberation Sans", sans-serif' font-size="22.1" fill="#fff" stroke="#fff" stroke-width="2.6" stroke-linejoin="round">1 &#181;m</text>
<text transform="translate(948.40 157.00) skewX(3.7) rotate(90) scale(1.055 1)" font-family='"DejaVu Sans", "Liberation Sans", sans-serif' font-size="22.1" fill="#008000" stroke="#008000" stroke-width="0.6" stroke-linejoin="round">1 &#181;m</text>
<text transform="translate(974.00 157.00) skewX(3.7) rotate(90) scale(1.055 1)" font-family='"DejaVu Sans", "Liberation Sans", sans-serif' font-size="22.1" fill="#fff" stroke="#fff" stroke-width="2.6" stroke-linejoin="round">2 &#181;m</text>
<text transform="translate(974.00 157.00) skewX(3.7) rotate(90) scale(1.055 1)" font-family='"DejaVu Sans", "Liberation Sans", sans-serif' font-size="22.1" fill="#000080" stroke="#000080" stroke-width="0.6" stroke-linejoin="round">2 &#181;m</text>
<text transform="translate(1005.60 157.00) skewX(3.7) rotate(90) scale(1.055 1)" font-family='"DejaVu Sans", "Liberation Sans", sans-serif' font-size="22.1" fill="#fff" stroke="#fff" stroke-width="2.6" stroke-linejoin="round">5 &#181;m</text>
<text transform="translate(1005.60 157.00) skewX(3.7) rotate(90) scale(1.055 1)" font-family='"DejaVu Sans", "Liberation Sans", sans-serif' font-size="22.1" fill="#800080" stroke="#800080" stroke-width="0.6" stroke-linejoin="round">5 &#181;m</text>
<text x="510.50" y="34.00" font-family='"DejaVu Sans", "Liberation Sans", sans-serif' font-size="40.5" text-anchor="start" fill="#000" >(b)</text>
<g transform="translate(566.00,255.40) rotate(-90)" font-family='"Liberation Sans", Arial, sans-serif' font-size="30.5" fill="#000"><text x="0" y="0">FTF(</text><text x="68.80" y="0" font-family='"Liberation Serif", "DejaVu Serif", serif' font-size="34.2">&#955;</text><text x="85.80" y="0">)/</text><text x="104.30" y="0" font-style="italic">q</text><text x="124.80" y="8.60" font-family='"DejaVu Sans", "Liberation Sans", sans-serif' font-size="18.9">t</text><text x="137.20" y="0" letter-spacing="0.5">(%)</text></g>
<g transform="translate(797.90,344.70) rotate(0)" font-family='"Liberation Sans", Arial, sans-serif' font-size="31" fill="#000"><text x="0" y="0" font-family='"Liberation Serif", "DejaVu Serif", serif' font-size="34.7">&#955;</text><text x="24.60" y="0">(nm)</text></g>
<linearGradient id="gd" gradientUnits="userSpaceOnUse" x1="0" y1="370.4" x2="0" y2="635.2"><stop offset="0" stop-color="#9890dc"/><stop offset="0.5" stop-color="#cc8cd0"/><stop offset="1" stop-color="#fa88a6"/></linearGradient>
<clipPath id="cd"><rect x="662.3" y="368.9" width="360.4000000000001" height="266.30000000000007"/></clipPath>
<g clip-path="url(#cd)">
<path d="M706.5,635.2 706.5,648.3 709.0,614.1 711.4,583.9 714.1,555.1 717.1,528.2 719.3,510.1 721.6,494.1 724.1,478.6 726.5,465.0 729.5,451.0 732.4,439.1 734.0,433.5 735.6,428.3 737.1,423.5 738.7,419.1 740.3,415.1 742.1,410.9 743.9,407.1 745.9,403.2 747.7,400.2 749.8,397.0 751.8,394.2 754.0,391.5 755.8,389.5 757.9,387.5 759.9,385.7 761.9,384.1 764.2,382.5 766.4,381.1 768.7,379.8 771.2,378.6 773.6,377.6 776.3,376.6 779.3,375.7 782.2,374.9 788.7,373.5 796.0,372.5 803.2,371.8 811.5,371.3 821.2,370.9 833.1,370.7 864.7,370.4 936.1,370.4 952.8,370.5 956.9,370.6 960.0,370.8 963.0,371.2 965.7,371.8 967.9,372.6 970.0,373.7 972.2,375.3 974.2,377.3 976.0,379.6 977.8,382.5 979.7,386.1 981.2,389.9 982.8,394.5 984.4,399.8 986.0,405.9 987.5,413.1 989.1,421.2 990.7,430.5 992.3,441.0 993.6,451.0 995.2,463.9 996.6,476.0 998.4,493.8 999.9,510.9 1001.5,529.6 1003.1,549.7 1006.2,594.7 1009.4,645.7 1009.4,635.2Z" fill="url(#gd)"/>
<line x1="746.09" y1="370.40" x2="746.09" y2="635.20" stroke="#333" stroke-width="0.8" stroke-dasharray="1.3 1.4"/>
<line x1="829.89" y1="370.40" x2="829.89" y2="635.20" stroke="#333" stroke-width="0.8" stroke-dasharray="1.3 1.4"/>
<line x1="913.68" y1="370.40" x2="913.68" y2="635.20" stroke="#333" stroke-width="0.8" stroke-dasharray="1.3 1.4"/>
<line x1="997.48" y1="370.40" x2="997.48" y2="635.20" stroke="#333" stroke-width="0.8" stroke-dasharray="1.3 1.4"/>
<line x1="662.30" y1="436.60" x2="1022.70" y2="436.60" stroke="#333" stroke-width="0.8" stroke-dasharray="1.3 1.4"/>
<line x1="662.30" y1="502.80" x2="1022.70" y2="502.80" stroke="#333" stroke-width="0.8" stroke-dasharray="1.3 1.4"/>
<line x1="662.30" y1="569.00" x2="1022.70" y2="569.00" stroke="#333" stroke-width="0.8" stroke-dasharray="1.3 1.4"/>
<path d="M704.0,687.2 705.8,658.5 707.6,632.2 709.6,605.4 711.7,581.3 713.7,559.6 715.9,538.1 718.2,518.9 720.5,501.9 722.9,485.4 725.4,470.9 727.9,458.3 730.6,446.2 733.5,435.1 736.5,425.5 738.0,421.0 739.6,416.8 741.2,413.0 743.0,409.0 744.6,405.8 746.1,402.8 747.7,400.2 749.5,397.4 751.3,394.8 753.1,392.5 755.2,390.2 757.2,388.1 759.2,386.2 761.2,384.6 763.5,382.9 765.8,381.5 768.2,380.1 770.7,378.8 773.4,377.7 776.1,376.7 778.8,375.8 781.8,375.0 787.8,373.7 794.8,372.6 802.9,371.8 812.0,371.3 823.0,370.9 836.5,370.6 854.3,370.5 947.4,370.4 955.5,370.5 960.7,370.9 963.9,371.4 966.6,372.1 969.1,373.2 971.3,374.6 973.3,376.4 975.4,378.7 977.2,381.3 978.7,384.2 980.1,387.1 981.2,389.9 982.6,393.8 983.7,397.4 986.0,405.9 988.2,416.4 990.2,427.8 992.3,441.0 994.3,456.3 996.3,473.9 998.4,493.8 1000.2,513.5 1002.2,538.0 1004.0,561.9 1005.8,587.9 1007.8,619.4 1009.6,649.6 1011.7,685.8" fill="none" stroke="#000" stroke-width="2.8" stroke-linejoin="round"/>
<path d="M729.2,686.9 731.0,658.2 732.8,632.0 734.9,605.2 736.9,581.1 738.9,559.4 741.2,537.9 743.4,518.7 745.7,501.7 748.2,485.3 750.7,470.8 753.4,457.1 756.1,445.2 759.0,434.2 761.9,424.8 763.5,420.3 765.3,415.6 766.9,411.9 768.7,408.0 771.8,402.0 773.4,399.4 775.2,396.7 777.0,394.2 778.8,392.0 780.9,389.7 782.9,387.7 784.9,385.8 787.2,384.0 789.4,382.5 791.7,381.1 794.2,379.7 796.6,378.5 799.3,377.4 802.0,376.4 807.7,374.8 814.0,373.5 821.2,372.5 829.3,371.7 838.6,371.2 849.8,370.8 863.8,370.6 882.5,370.5 950.6,370.4 958.0,370.6 960.7,370.9 963.0,371.2 965.9,371.9 968.6,373.0 970.9,374.3 973.1,376.1 975.1,378.4 976.9,381.0 978.7,384.2 980.6,388.2 981.7,391.1 982.8,394.5 985.1,402.3 987.3,412.0 989.3,422.5 991.4,434.9 993.2,447.6 995.2,463.9 997.0,480.3 998.8,498.5 1000.6,518.7 1002.4,540.9 1004.2,565.1 1006.0,591.2 1007.8,619.4 1009.6,649.6 1011.7,685.8" fill="none" stroke="#ff0000" stroke-width="2.1" stroke-dasharray="9 8" stroke-linejoin="round"/>
<path d="M762.6,686.7 764.4,658.0 766.2,631.8 768.2,605.0 770.3,581.0 772.3,559.3 774.5,537.8 776.8,518.6 779.1,501.7 781.5,485.2 784.0,470.7 786.7,457.0 789.4,445.2 792.4,434.2 795.3,424.7 796.9,420.3 798.7,415.6 800.2,411.8 802.0,408.0 803.6,404.8 805.4,401.6 807.0,399.0 808.8,396.3 810.6,393.9 812.4,391.7 814.4,389.4 816.5,387.4 818.5,385.6 820.7,383.9 823.0,382.3 825.3,380.9 827.7,379.6 830.2,378.4 832.9,377.3 835.9,376.3 841.5,374.7 847.8,373.5 855.0,372.5 863.3,371.7 872.8,371.2 884.1,370.8 898.3,370.6 917.4,370.5 947.0,370.4 956.2,370.6 959.8,370.8 962.7,371.2 965.2,371.7 967.5,372.5 968.8,373.1 970.2,373.8 972.4,375.5 974.5,377.6 976.5,380.3 978.3,383.3 980.1,387.1 981.9,391.8 983.5,396.6 985.5,404.1 987.5,413.1 989.3,422.5 991.1,433.4 992.9,445.9 994.8,460.0 996.6,476.0 998.1,491.4 999.9,510.9 1001.5,529.6 1003.3,552.7 1004.9,574.6 1008.3,626.8 1011.7,685.8" fill="none" stroke="#0000ff" stroke-width="2.8" stroke-dasharray="1.2 12.3" stroke-linecap="round" stroke-linejoin="round"/>
<path d="M787.8,686.4 789.6,657.7 791.7,628.4 793.7,602.0 795.7,578.2 797.8,556.8 800.0,535.6 802.3,516.7 804.5,499.9 807.0,483.7 809.5,469.4 812.2,455.9 814.9,444.2 817.8,433.3 820.7,424.0 822.3,419.6 824.1,415.0 825.7,411.3 827.5,407.5 829.1,404.4 830.9,401.2 832.5,398.6 834.3,396.0 836.1,393.6 837.9,391.4 839.9,389.2 841.9,387.2 844.0,385.4 846.2,383.7 848.5,382.1 850.7,380.8 853.2,379.5 855.7,378.3 858.4,377.2 861.3,376.2 864.3,375.3 867.2,374.6 873.5,373.4 880.7,372.4 889.0,371.7 898.5,371.2 910.0,370.8 924.4,370.6 943.4,370.5 951.3,370.5 956.2,370.6 960.0,370.8 963.2,371.3 966.1,372.0 968.6,373.0 970.9,374.3 972.9,375.9 974.9,378.1 976.9,381.0 978.7,384.2 980.6,388.2 982.4,393.1 983.9,398.2 985.5,404.1 987.1,410.9 988.9,420.0 990.5,429.1 992.0,439.4 993.6,451.0 995.2,463.9 996.8,478.1 998.4,493.8 999.7,508.4 1002.6,543.8 1005.6,584.5 1008.5,630.5 1011.7,685.8" fill="none" stroke="#8b008b" stroke-width="1.9" stroke-dasharray="15.5 3.2 1.9 3.2" stroke-linejoin="round"/>
<path d="M813.1,686.1 814.9,657.4 816.7,631.2 818.5,607.4 820.5,583.1 822.6,561.2 824.6,541.5 826.6,523.8 828.9,506.3 831.1,490.7 833.6,475.6 836.1,462.3 838.6,450.7 841.3,439.7 844.2,429.5 845.8,424.6 847.3,420.1 848.9,416.0 850.5,412.3 852.1,408.8 853.7,405.6 856.8,400.0 858.4,397.6 860.2,395.0 862.0,392.7 863.8,390.6 865.6,388.7 867.6,386.8 869.7,385.1 871.9,383.4 874.2,381.8 876.6,380.4 879.1,379.1 881.6,378.0 884.1,377.0 886.8,376.1 892.4,374.6 899.0,373.3 906.2,372.4 914.5,371.6 924.2,371.1 936.4,370.8 950.1,370.6 955.5,370.7 959.6,370.9 963.0,371.3 965.7,371.9 968.4,372.9 970.6,374.2 972.7,375.8 974.7,377.9 976.7,380.7 978.5,383.8 980.3,387.7 981.9,391.8 983.5,396.7 985.1,402.3 986.6,408.9 988.2,416.5 989.8,425.1 991.4,434.9 992.9,445.9 994.3,456.3 995.9,469.8 997.2,482.4 1000.2,513.5 1003.1,549.7 1005.8,587.9 1008.7,634.3 1011.7,685.8" fill="none" stroke="#008000" stroke-width="2.4" stroke-dasharray="7.7 2.5 2.2 2.5 2.2 2.5" stroke-linejoin="round"/>
<path d="M846.4,685.8 848.0,660.6 849.8,634.2 851.4,613.0 853.2,590.7 855.0,570.5 856.8,552.1 858.8,533.3 860.9,516.4 862.9,501.3 865.2,486.3 867.4,472.9 869.7,461.1 871.9,450.7 874.4,440.5 877.1,430.9 879.8,422.6 882.5,415.4 885.4,408.8 888.4,403.1 891.5,397.9 893.1,395.6 894.9,393.3 896.7,391.1 898.5,389.2 900.3,387.4 902.3,385.6 904.4,384.0 906.4,382.6 908.4,381.3 910.7,380.0 912.9,378.9 915.4,377.8 917.9,376.9 920.6,376.0 926.2,374.5 932.8,373.3 940.2,372.3 948.8,371.6 956.4,371.3 960.5,371.5 963.6,371.8 966.4,372.5 968.8,373.5 971.1,374.8 973.1,376.4 975.1,378.7 976.9,381.2 978.7,384.4 980.6,388.4 982.1,392.6 983.7,397.6 985.3,403.3 986.6,409.0 988.2,416.6 989.6,423.9 991.1,433.5 992.5,442.7 994.1,454.6 995.4,465.9 998.1,491.5 1000.8,521.4 1003.5,555.8 1006.2,594.7 1009.0,638.1 1011.7,685.8" fill="none" stroke="#000080" stroke-width="1.7" stroke-dasharray="4.2 2.6" stroke-linejoin="round"/>
<path d="M871.7,685.5 874.6,640.3 876.2,618.6 877.8,598.6 879.4,580.2 881.2,560.9 883.0,543.3 884.8,527.3 886.6,512.8 888.4,499.6 890.4,486.1 892.4,474.1 894.5,463.3 896.7,452.6 899.0,443.1 901.4,433.9 903.7,426.6 906.2,419.5 908.9,412.7 911.6,406.9 914.5,401.5 917.4,396.9 920.6,392.7 924.0,388.9 925.8,387.2 927.6,385.6 929.4,384.2 931.4,382.7 933.4,381.4 935.7,380.1 940.2,378.0 942.7,377.0 945.4,376.1 948.1,375.3 951.0,374.6 954.0,374.1 956.7,373.6 959.1,373.4 961.4,373.3 964.3,373.5 966.8,374.0 969.1,374.7 971.3,376.0 973.3,377.6 975.1,379.5 976.9,382.0 978.7,385.1 980.6,389.0 982.1,393.2 983.7,398.1 985.1,402.9 986.6,409.5 988.0,415.8 989.3,423.0 990.7,431.0 992.0,439.9 993.4,449.7 996.1,472.2 998.8,498.8 1001.3,527.1 1004.0,562.1 1006.5,598.3 1009.0,638.2 1011.7,685.9" fill="none" stroke="#8000ff" stroke-width="1.9" stroke-dasharray="1.9 1.5" stroke-linejoin="round"/>
<path d="M896.9,685.2 899.6,643.3 902.3,606.7 905.3,572.5 906.8,556.1 908.4,541.0 910.0,527.2 911.6,514.4 913.2,502.6 915.0,490.3 916.8,479.2 918.6,469.0 920.4,459.8 922.4,450.5 924.4,442.1 926.5,434.6 928.7,427.2 931.0,420.6 933.2,414.8 935.7,409.2 938.2,404.3 940.9,399.6 943.8,395.3 947.0,391.3 950.3,387.8 953.7,384.9 955.5,383.6 957.3,382.5 959.1,381.5 960.9,380.6 962.7,380.0 964.3,379.5 965.9,379.3 967.3,379.2 968.4,379.3 969.5,379.5 971.5,380.2 973.3,381.3 975.1,382.8 976.9,385.0 978.5,387.5 980.1,390.5 981.5,393.7 983.0,398.0 984.4,402.4 985.7,407.5 987.1,413.2 988.4,419.7 989.8,427.0 992.3,442.7 994.8,461.5 997.2,483.7 999.7,509.5 1002.0,536.1 1004.2,565.9 1006.7,602.3 1009.2,642.5 1011.7,686.3" fill="none" stroke="#8b008b" stroke-width="2.0" stroke-dasharray="6.4 2.6 1.7 2.6" stroke-linejoin="round"/>
<path d="M930.3,685.0 932.3,653.0 934.6,621.2 936.8,592.8 939.1,567.6 941.6,543.0 944.0,521.4 946.7,500.9 949.4,483.2 952.4,466.6 954.0,458.8 955.5,451.6 957.1,445.0 958.9,438.1 960.5,432.7 962.3,427.1 964.1,422.2 965.9,417.9 967.7,414.2 969.3,411.5 971.1,409.1 972.7,407.5 973.6,406.8 974.5,406.3 975.4,406.0 976.0,406.0 976.7,406.0 977.4,406.2 978.7,406.9 980.1,408.2 981.2,409.7 982.6,412.1 983.7,414.6 985.1,418.2 986.2,421.9 987.3,426.0 988.4,430.8 989.6,436.1 990.7,442.1 992.9,456.0 995.0,471.0 997.2,490.3 999.3,510.4 1001.3,533.0 1003.3,558.2 1005.3,586.1 1007.4,616.5 1009.4,649.5 1011.4,685.0" fill="none" stroke="#800000" stroke-width="2.4" stroke-linejoin="round"/>
<path d="M955.5,684.8 957.1,659.7 958.9,633.5 960.5,612.5 962.3,590.5 964.1,570.7 965.9,552.8 967.7,536.7 969.5,522.3 971.3,509.6 973.3,497.3 975.4,486.9 977.2,479.4 978.3,475.5 979.2,472.8 980.1,470.6 981.0,468.7 981.9,467.3 982.8,466.3 983.7,465.7 984.6,465.5 985.5,465.8 986.4,466.6 987.3,467.8 988.0,469.0 988.9,471.1 989.8,473.6 991.4,479.2 993.2,487.5 994.8,496.5 996.3,507.2 997.9,519.5 999.7,535.7 1001.3,551.6 1002.9,569.4 1004.4,588.8 1006.0,609.9 1007.6,632.7 1011.0,687.2" fill="none" stroke="#909a10" stroke-width="2.2" stroke-dasharray="10 6" stroke-linejoin="round"/>
<path d="M981.9,685.2 983.5,666.1 985.1,649.5 986.6,635.6 988.2,624.3 989.8,615.5 990.5,612.4 991.4,609.1 992.0,607.2 992.9,605.3 993.4,604.6 993.8,604.2 994.3,603.9 994.8,603.9 995.4,604.2 995.9,604.7 996.3,605.3 997.0,606.6 997.9,609.1 998.6,611.5 999.5,615.3 1000.4,619.9 1001.3,625.2 1002.9,636.3 1004.4,649.8 1006.0,665.4 1007.8,685.8" fill="none" stroke="#3a7ab8" stroke-width="2.4" stroke-dasharray="2 4" stroke-linejoin="round"/>
<line x1="749.86" y1="396.88" x2="983.55" y2="396.88" stroke="#000" stroke-width="2.6" stroke-dasharray="6.6 3.8"/>
<line x1="720.36" y1="502.80" x2="999.20" y2="502.80" stroke="#000" stroke-width="2.5" stroke-dasharray="12.3 4.9"/>
</g>
<rect x="662.3" y="370.4" width="360.4" height="264.8" fill="none" stroke="#000" stroke-width="1.2"/>
<line x1="662.30" y1="635.20" x2="662.30" y2="640.80" stroke="#000" stroke-width="1.1" />
<line x1="687.52" y1="635.20" x2="687.52" y2="638.60" stroke="#000" stroke-width="1.1" />
<line x1="687.52" y1="370.40" x2="687.52" y2="373.20" stroke="#000" stroke-width="1" />
<line x1="702.28" y1="635.20" x2="702.28" y2="638.60" stroke="#000" stroke-width="1.1" />
<line x1="702.28" y1="370.40" x2="702.28" y2="373.20" stroke="#000" stroke-width="1" />
<line x1="712.75" y1="635.20" x2="712.75" y2="638.60" stroke="#000" stroke-width="1.1" />
<line x1="712.75" y1="370.40" x2="712.75" y2="373.20" stroke="#000" stroke-width="1" />
<line x1="720.87" y1="635.20" x2="720.87" y2="638.60" stroke="#000" stroke-width="1.1" />
<line x1="720.87" y1="370.40" x2="720.87" y2="373.20" stroke="#000" stroke-width="1" />
<line x1="727.50" y1="635.20" x2="727.50" y2="638.60" stroke="#000" stroke-width="1.1" />
<line x1="727.50" y1="370.40" x2="727.50" y2="373.20" stroke="#000" stroke-width="1" />
<line x1="733.11" y1="635.20" x2="733.11" y2="638.60" stroke="#000" stroke-width="1.1" />
<line x1="733.11" y1="370.40" x2="733.11" y2="373.20" stroke="#000" stroke-width="1" />
<line x1="737.97" y1="635.20" x2="737.97" y2="638.60" stroke="#000" stroke-width="1.1" />
<line x1="737.97" y1="370.40" x2="737.97" y2="373.20" stroke="#000" stroke-width="1" />
<line x1="742.26" y1="635.20" x2="742.26" y2="638.60" stroke="#000" stroke-width="1.1" />
<line x1="742.26" y1="370.40" x2="742.26" y2="373.20" stroke="#000" stroke-width="1" />
<line x1="746.09" y1="635.20" x2="746.09" y2="640.80" stroke="#000" stroke-width="1.1" />
<line x1="746.09" y1="370.40" x2="746.09" y2="375.40" stroke="#000" stroke-width="1" />
<line x1="771.32" y1="635.20" x2="771.32" y2="638.60" stroke="#000" stroke-width="1.1" />
<line x1="771.32" y1="370.40" x2="771.32" y2="373.20" stroke="#000" stroke-width="1" />
<line x1="786.07" y1="635.20" x2="786.07" y2="638.60" stroke="#000" stroke-width="1.1" />
<line x1="786.07" y1="370.40" x2="786.07" y2="373.20" stroke="#000" stroke-width="1" />
<line x1="796.54" y1="635.20" x2="796.54" y2="638.60" stroke="#000" stroke-width="1.1" />
<line x1="796.54" y1="370.40" x2="796.54" y2="373.20" stroke="#000" stroke-width="1" />
<line x1="804.66" y1="635.20" x2="804.66" y2="638.60" stroke="#000" stroke-width="1.1" />
<line x1="804.66" y1="370.40" x2="804.66" y2="373.20" stroke="#000" stroke-width="1" />
<line x1="811.30" y1="635.20" x2="811.30" y2="638.60" stroke="#000" stroke-width="1.1" />
<line x1="811.30" y1="370.40" x2="811.30" y2="373.20" stroke="#000" stroke-width="1" />
<line x1="816.91" y1="635.20" x2="816.91" y2="638.60" stroke="#000" stroke-width="1.1" />
<line x1="816.91" y1="370.40" x2="816.91" y2="373.20" stroke="#000" stroke-width="1" />
<line x1="821.77" y1="635.20" x2="821.77" y2="638.60" stroke="#000" stroke-width="1.1" />
<line x1="821.77" y1="370.40" x2="821.77" y2="373.20" stroke="#000" stroke-width="1" />
<line x1="826.05" y1="635.20" x2="826.05" y2="638.60" stroke="#000" stroke-width="1.1" />
<line x1="826.05" y1="370.40" x2="826.05" y2="373.20" stroke="#000" stroke-width="1" />
<line x1="829.89" y1="635.20" x2="829.89" y2="640.80" stroke="#000" stroke-width="1.1" />
<line x1="829.89" y1="370.40" x2="829.89" y2="375.40" stroke="#000" stroke-width="1" />
<line x1="855.11" y1="635.20" x2="855.11" y2="638.60" stroke="#000" stroke-width="1.1" />
<line x1="855.11" y1="370.40" x2="855.11" y2="373.20" stroke="#000" stroke-width="1" />
<line x1="869.87" y1="635.20" x2="869.87" y2="638.60" stroke="#000" stroke-width="1.1" />
<line x1="869.87" y1="370.40" x2="869.87" y2="373.20" stroke="#000" stroke-width="1" />
<line x1="880.34" y1="635.20" x2="880.34" y2="638.60" stroke="#000" stroke-width="1.1" />
<line x1="880.34" y1="370.40" x2="880.34" y2="373.20" stroke="#000" stroke-width="1" />
<line x1="888.46" y1="635.20" x2="888.46" y2="638.60" stroke="#000" stroke-width="1.1" />
<line x1="888.46" y1="370.40" x2="888.46" y2="373.20" stroke="#000" stroke-width="1" />
<line x1="895.09" y1="635.20" x2="895.09" y2="638.60" stroke="#000" stroke-width="1.1" />
<line x1="895.09" y1="370.40" x2="895.09" y2="373.20" stroke="#000" stroke-width="1" />
<line x1="900.70" y1="635.20" x2="900.70" y2="638.60" stroke="#000" stroke-width="1.1" />
<line x1="900.70" y1="370.40" x2="900.70" y2="373.20" stroke="#000" stroke-width="1" />
<line x1="905.56" y1="635.20" x2="905.56" y2="638.60" stroke="#000" stroke-width="1.1" />
<line x1="905.56" y1="370.40" x2="905.56" y2="373.20" stroke="#000" stroke-width="1" />
<line x1="909.85" y1="635.20" x2="909.85" y2="638.60" stroke="#000" stroke-width="1.1" />
<line x1="909.85" y1="370.40" x2="909.85" y2="373.20" stroke="#000" stroke-width="1" />
<line x1="913.68" y1="635.20" x2="913.68" y2="640.80" stroke="#000" stroke-width="1.1" />
<line x1="913.68" y1="370.40" x2="913.68" y2="375.40" stroke="#000" stroke-width="1" />
<line x1="938.91" y1="635.20" x2="938.91" y2="638.60" stroke="#000" stroke-width="1.1" />
<line x1="938.91" y1="370.40" x2="938.91" y2="373.20" stroke="#000" stroke-width="1" />
<line x1="953.66" y1="635.20" x2="953.66" y2="638.60" stroke="#000" stroke-width="1.1" />
<line x1="953.66" y1="370.40" x2="953.66" y2="373.20" stroke="#000" stroke-width="1" />
<line x1="964.13" y1="635.20" x2="964.13" y2="638.60" stroke="#000" stroke-width="1.1" />
<line x1="964.13" y1="370.40" x2="964.13" y2="373.20" stroke="#000" stroke-width="1" />
<line x1="972.25" y1="635.20" x2="972.25" y2="638.60" stroke="#000" stroke-width="1.1" />
<line x1="972.25" y1="370.40" x2="972.25" y2="373.20" stroke="#000" stroke-width="1" />
<line x1="978.89" y1="635.20" x2="978.89" y2="638.60" stroke="#000" stroke-width="1.1" />
<line x1="978.89" y1="370.40" x2="978.89" y2="373.20" stroke="#000" stroke-width="1" />
<line x1="984.50" y1="635.20" x2="984.50" y2="638.60" stroke="#000" stroke-width="1.1" />
<line x1="984.50" y1="370.40" x2="984.50" y2="373.20" stroke="#000" stroke-width="1" />
<line x1="989.36" y1="635.20" x2="989.36" y2="638.60" stroke="#000" stroke-width="1.1" />
<line x1="989.36" y1="370.40" x2="989.36" y2="373.20" stroke="#000" stroke-width="1" />
<line x1="993.64" y1="635.20" x2="993.64" y2="638.60" stroke="#000" stroke-width="1.1" />
<line x1="993.64" y1="370.40" x2="993.64" y2="373.20" stroke="#000" stroke-width="1" />
<line x1="997.48" y1="635.20" x2="997.48" y2="640.80" stroke="#000" stroke-width="1.1" />
<line x1="997.48" y1="370.40" x2="997.48" y2="375.40" stroke="#000" stroke-width="1" />
<line x1="1022.70" y1="635.20" x2="1022.70" y2="638.60" stroke="#000" stroke-width="1.1" />
<line x1="1022.70" y1="370.40" x2="1022.70" y2="373.20" stroke="#000" stroke-width="1" />
<line x1="656.70" y1="370.40" x2="662.30" y2="370.40" stroke="#000" stroke-width="1" />
<line x1="658.90" y1="403.50" x2="662.30" y2="403.50" stroke="#000" stroke-width="1" />
<line x1="1022.70" y1="403.50" x2="1019.64" y2="403.50" stroke="#000" stroke-width="1" />
<line x1="656.70" y1="436.60" x2="662.30" y2="436.60" stroke="#000" stroke-width="1" />
<line x1="1022.70" y1="436.60" x2="1017.66" y2="436.60" stroke="#000" stroke-width="1" />
<line x1="658.90" y1="469.70" x2="662.30" y2="469.70" stroke="#000" stroke-width="1" />
<line x1="1022.70" y1="469.70" x2="1019.64" y2="469.70" stroke="#000" stroke-width="1" />
<line x1="656.70" y1="502.80" x2="662.30" y2="502.80" stroke="#000" stroke-width="1" />
<line x1="1022.70" y1="502.80" x2="1017.66" y2="502.80" stroke="#000" stroke-width="1" />
<line x1="658.90" y1="535.90" x2="662.30" y2="535.90" stroke="#000" stroke-width="1" />
<line x1="1022.70" y1="535.90" x2="1019.64" y2="535.90" stroke="#000" stroke-width="1" />
<line x1="656.70" y1="569.00" x2="662.30" y2="569.00" stroke="#000" stroke-width="1" />
<line x1="1022.70" y1="569.00" x2="1017.66" y2="569.00" stroke="#000" stroke-width="1" />
<line x1="658.90" y1="602.10" x2="662.30" y2="602.10" stroke="#000" stroke-width="1" />
<line x1="1022.70" y1="602.10" x2="1019.64" y2="602.10" stroke="#000" stroke-width="1" />
<line x1="656.70" y1="635.20" x2="662.30" y2="635.20" stroke="#000" stroke-width="1" />
<text x="652.60" y="379.20" font-family='"Liberation Sans", Arial, sans-serif' font-size="31" text-anchor="end" fill="#000" >100.0</text>
<text x="652.60" y="445.40" font-family='"Liberation Sans", Arial, sans-serif' font-size="31" text-anchor="end" fill="#000" >97.5</text>
<text x="652.60" y="511.60" font-family='"Liberation Sans", Arial, sans-serif' font-size="31" text-anchor="end" fill="#000" >95.0</text>
<text x="652.60" y="577.80" font-family='"Liberation Sans", Arial, sans-serif' font-size="31" text-anchor="end" fill="#000" >92.5</text>
<text x="652.60" y="644.00" font-family='"Liberation Sans", Arial, sans-serif' font-size="31" text-anchor="end" fill="#000" >90.0</text>
<text x="662.80" y="673.70" font-family='"Liberation Sans", Arial, sans-serif' font-size="31" text-anchor="middle" fill="#000">10<tspan font-size="18.9" dy="-15.5">0</tspan></text>
<text x="746.59" y="673.70" font-family='"Liberation Sans", Arial, sans-serif' font-size="31" text-anchor="middle" fill="#000">10<tspan font-size="18.9" dy="-15.5">1</tspan></text>
<text x="830.39" y="673.70" font-family='"Liberation Sans", Arial, sans-serif' font-size="31" text-anchor="middle" fill="#000">10<tspan font-size="18.9" dy="-15.5">2</tspan></text>
<text x="914.18" y="673.70" font-family='"Liberation Sans", Arial, sans-serif' font-size="31" text-anchor="middle" fill="#000">10<tspan font-size="18.9" dy="-15.5">3</tspan></text>
<text x="997.98" y="673.70" font-family='"Liberation Sans", Arial, sans-serif' font-size="31" text-anchor="middle" fill="#000">10<tspan font-size="18.9" dy="-15.5">4</tspan></text>
<text transform="translate(703.50 620.80) skewX(-4.3) rotate(-90) scale(1.055 1)" font-family='"DejaVu Sans", "Liberation Sans", sans-serif' font-size="22.3" fill="#fff" stroke="#fff" stroke-width="3.1" stroke-linejoin="round"><tspan font-style="italic">d</tspan> = 1 nm</text>
<text transform="translate(703.50 620.80) skewX(-4.3) rotate(-90) scale(1.055 1)" font-family='"DejaVu Sans", "Liberation Sans", sans-serif' font-size="22.3" fill="#000" stroke="#000" stroke-width="1.1" stroke-linejoin="round"><tspan font-style="italic">d</tspan> = 1 nm</text>
<text transform="translate(735.20 569.50) skewX(-4.3) rotate(-90) scale(1.055 1)" font-family='"DejaVu Sans", "Liberation Sans", sans-serif' font-size="21.3" fill="#fff" stroke="#fff" stroke-width="2.6" stroke-linejoin="round">2 nm</text>
<text transform="translate(735.20 569.50) skewX(-4.3) rotate(-90) scale(1.055 1)" font-family='"DejaVu Sans", "Liberation Sans", sans-serif' font-size="21.3" fill="#ff0000" stroke="#ff0000" stroke-width="0.6" stroke-linejoin="round">2 nm</text>
<text transform="translate(766.80 570.50) skewX(-4.3) rotate(-90) scale(1.055 1)" font-family='"DejaVu Sans", "Liberation Sans", sans-serif' font-size="21.3" fill="#fff" stroke="#fff" stroke-width="2.6" stroke-linejoin="round">5 nm</text>
<text transform="translate(766.80 570.50) skewX(-4.3) rotate(-90) scale(1.055 1)" font-family='"DejaVu Sans", "Liberation Sans", sans-serif' font-size="21.3" fill="#0000ff" stroke="#0000ff" stroke-width="0.6" stroke-linejoin="round">5 nm</text>
<text transform="translate(792.40 584.30) skewX(-4.3) rotate(-90) scale(1.055 1)" font-family='"DejaVu Sans", "Liberation Sans", sans-serif' font-size="21.5" fill="#fff" stroke="#fff" stroke-width="2.6" stroke-linejoin="round">10 nm</text>
<text transform="translate(792.40 584.30) skewX(-4.3) rotate(-90) scale(1.055 1)" font-family='"DejaVu Sans", "Liberation Sans", sans-serif' font-size="21.5" fill="#800080" stroke="#800080" stroke-width="0.6" stroke-linejoin="round">10 nm</text>
<text transform="translate(816.10 584.30) skewX(-4.3) rotate(-90) scale(1.055 1)" font-family='"DejaVu Sans", "Liberation Sans", sans-serif' font-size="21.5" fill="#fff" stroke="#fff" stroke-width="2.6" stroke-linejoin="round">20 nm</text>
<text transform="translate(816.10 584.30) skewX(-4.3) rotate(-90) scale(1.055 1)" font-family='"DejaVu Sans", "Liberation Sans", sans-serif' font-size="21.5" fill="#008000" stroke="#008000" stroke-width="0.6" stroke-linejoin="round">20 nm</text>
<text transform="translate(849.60 584.30) skewX(-4.3) rotate(-90) scale(1.055 1)" font-family='"DejaVu Sans", "Liberation Sans", sans-serif' font-size="21.5" fill="#fff" stroke="#fff" stroke-width="2.6" stroke-linejoin="round">50 nm</text>
<text transform="translate(849.60 584.30) skewX(-4.3) rotate(-90) scale(1.055 1)" font-family='"DejaVu Sans", "Liberation Sans", sans-serif' font-size="21.5" fill="#000080" stroke="#000080" stroke-width="0.6" stroke-linejoin="round">50 nm</text>
<text transform="translate(875.60 600.10) skewX(-4.3) rotate(-90) scale(1.055 1)" font-family='"DejaVu Sans", "Liberation Sans", sans-serif' font-size="21.8" fill="#fff" stroke="#fff" stroke-width="2.6" stroke-linejoin="round">100 nm</text>
<text transform="translate(875.60 600.10) skewX(-4.3) rotate(-90) scale(1.055 1)" font-family='"DejaVu Sans", "Liberation Sans", sans-serif' font-size="21.8" fill="#0000ff" stroke="#0000ff" stroke-width="0.6" stroke-linejoin="round">100 nm</text>
<text transform="translate(902.30 601.10) skewX(-4.3) rotate(-90) scale(1.055 1)" font-family='"DejaVu Sans", "Liberation Sans", sans-serif' font-size="21.8" fill="#fff" stroke="#fff" stroke-width="2.6" stroke-linejoin="round">200 nm</text>
<text transform="translate(902.30 601.10) skewX(-4.3) rotate(-90) scale(1.055 1)" font-family='"DejaVu Sans", "Liberation Sans", sans-serif' font-size="21.8" fill="#800080" stroke="#800080" stroke-width="0.6" stroke-linejoin="round">200 nm</text>
<text transform="translate(934.80 601.10) skewX(-4.3) rotate(-90) scale(1.055 1)" font-family='"DejaVu Sans", "Liberation Sans", sans-serif' font-size="21.8" fill="#fff" stroke="#fff" stroke-width="2.6" stroke-linejoin="round">500 nm</text>
<text transform="translate(934.80 601.10) skewX(-4.3) rotate(-90) scale(1.055 1)" font-family='"DejaVu Sans", "Liberation Sans", sans-serif' font-size="21.8" fill="#800000" stroke="#800000" stroke-width="0.6" stroke-linejoin="round">500 nm</text>
<text transform="translate(955.50 609.00) skewX(-4.3) rotate(-90) scale(1.055 1)" font-family='"DejaVu Sans", "Liberation Sans", sans-serif' font-size="21.3" fill="#fff" stroke="#fff" stroke-width="2.6" stroke-linejoin="round">1 &#181;m</text>
<text transform="translate(955.50 609.00) skewX(-4.3) rotate(-90) scale(1.055 1)" font-family='"DejaVu Sans", "Liberation Sans", sans-serif' font-size="21.3" fill="#008000" stroke="#008000" stroke-width="0.6" stroke-linejoin="round">1 &#181;m</text>
<text transform="translate(984.10 622.80) skewX(-4.3) rotate(-90) scale(1.055 1)" font-family='"DejaVu Sans", "Liberation Sans", sans-serif' font-size="21.3" fill="#fff" stroke="#fff" stroke-width="2.6" stroke-linejoin="round">2 &#181;m</text>
<text transform="translate(984.10 622.80) skewX(-4.3) rotate(-90) scale(1.055 1)" font-family='"DejaVu Sans", "Liberation Sans", sans-serif' font-size="21.3" fill="#800080" stroke="#800080" stroke-width="0.6" stroke-linejoin="round">2 &#181;m</text>
<text x="510.50" y="369.90" font-family='"DejaVu Sans", "Liberation Sans", sans-serif' font-size="40.5" text-anchor="start" fill="#000" >(d)</text>
<g transform="translate(566.00,611.50) rotate(-90)" font-family='"Liberation Sans", Arial, sans-serif' font-size="30.5" fill="#000"><text x="0" y="0">FTF(</text><text x="68.80" y="0" font-family='"Liberation Serif", "DejaVu Serif", serif' font-size="34.2">&#955;</text><text x="85.80" y="0">)/</text><text x="104.30" y="0" font-style="italic">q</text><text x="124.80" y="8.60" font-family='"DejaVu Sans", "Liberation Sans", sans-serif' font-size="18.9">t</text><text x="137.20" y="0" letter-spacing="0.5">(%)</text></g>
<g transform="translate(797.90,700.50) rotate(0)" font-family='"Liberation Sans", Arial, sans-serif' font-size="31" fill="#000"><text x="0" y="0" font-family='"Liberation Serif", "DejaVu Serif", serif' font-size="34.7">&#955;</text><text x="24.60" y="0">(nm)</text></g>
<clipPath id="cc"><rect x="1138.4" y="13.0" width="360.1999999999998" height="265.8"/></clipPath>
<g clip-path="url(#cc)">
<line x1="1222.14" y1="13.00" x2="1222.14" y2="278.80" stroke="#666" stroke-width="1.4" stroke-opacity="0.5"/>
<line x1="1305.88" y1="13.00" x2="1305.88" y2="278.80" stroke="#666" stroke-width="1.4" stroke-opacity="0.5"/>
<line x1="1389.62" y1="13.00" x2="1389.62" y2="278.80" stroke="#666" stroke-width="1.4" stroke-opacity="0.5"/>
<line x1="1473.36" y1="13.00" x2="1473.36" y2="278.80" stroke="#666" stroke-width="1.4" stroke-opacity="0.5"/>
<line x1="1138.40" y1="217.00" x2="1498.60" y2="217.00" stroke="#444" stroke-width="0.8" stroke-dasharray="2 2.5"/>
<line x1="1138.40" y1="155.20" x2="1498.60" y2="155.20" stroke="#444" stroke-width="0.8" stroke-dasharray="2 2.5"/>
<line x1="1138.40" y1="93.40" x2="1498.60" y2="93.40" stroke="#444" stroke-width="0.8" stroke-dasharray="2 2.5"/>
<line x1="1138.40" y1="31.60" x2="1498.60" y2="31.60" stroke="#444" stroke-width="0.8" stroke-dasharray="2 2.5"/>
<polygon points="1270.70,157.15 1280.68,150.03 1305.89,127.70 1331.11,108.53 1364.43,83.78 1389.64,65.16 1414.85,46.55 1448.18,21.96 1473.39,3.35 1498.60,-15.25 1498.60,165.14 1473.39,165.14 1448.18,165.14 1414.85,165.14 1389.64,165.14 1364.43,165.14 1331.11,165.14 1305.89,165.13 1280.68,163.15" fill="#fac4c4"/>
<polygon points="1305.89,137.90 1331.11,117.23 1364.43,92.21 1389.64,73.54 1414.85,54.93 1448.18,30.33 1473.39,11.73 1498.60,-6.88 1498.60,155.60 1473.39,155.60 1448.18,155.60 1414.85,155.60 1389.64,155.60 1364.43,155.60 1331.11,155.60 1305.89,155.10" fill="#dc94c0"/>
<polygon points="1286.08,155.61 1286.08,155.61 1293.44,149.03 1293.44,155.61" fill="#dc94c0"/>
<polygon points="1296.86,155.61 1296.86,145.98 1303.06,140.44 1303.06,155.61" fill="#dc94c0"/>
<polygon points="1304.60,155.61 1304.60,139.06 1305.16,138.56 1305.16,155.61" fill="#dc94c0"/>
<polygon points="1364.43,104.34 1389.64,85.22 1414.85,66.50 1448.18,41.87 1473.39,23.27 1498.60,4.66 1498.60,133.82 1473.39,133.82 1448.18,133.82 1414.85,133.82 1389.64,133.82 1364.43,133.82" fill="#b784d4"/>
<polygon points="1329.81,133.82 1329.81,133.82 1339.94,125.19 1339.94,133.82" fill="#b784d4"/>
<polygon points="1343.73,133.82 1343.73,121.97 1349.87,116.74 1349.87,133.82" fill="#b784d4"/>
<polygon points="1353.87,133.82 1353.87,113.33 1360.19,107.95 1360.19,133.82" fill="#b784d4"/>
<line x1="1222.15" y1="13.00" x2="1222.15" y2="278.80" stroke="#555" stroke-width="1.4" stroke-opacity="0.45"/>
<line x1="1305.89" y1="13.00" x2="1305.89" y2="278.80" stroke="#555" stroke-width="1.4" stroke-opacity="0.45"/>
<line x1="1389.64" y1="13.00" x2="1389.64" y2="278.80" stroke="#555" stroke-width="1.4" stroke-opacity="0.45"/>
<line x1="1473.39" y1="13.00" x2="1473.39" y2="278.80" stroke="#555" stroke-width="1.4" stroke-opacity="0.45"/>
<line x1="1138.40" y1="217.00" x2="1498.60" y2="217.00" stroke="#444" stroke-width="0.8" stroke-dasharray="2 2.5" stroke-opacity="0.7"/>
<line x1="1138.40" y1="155.20" x2="1498.60" y2="155.20" stroke="#444" stroke-width="0.8" stroke-dasharray="2 2.5" stroke-opacity="0.7"/>
<line x1="1138.40" y1="93.40" x2="1498.60" y2="93.40" stroke="#444" stroke-width="0.8" stroke-dasharray="2 2.5" stroke-opacity="0.7"/>
<line x1="1138.40" y1="31.60" x2="1498.60" y2="31.60" stroke="#444" stroke-width="0.8" stroke-dasharray="2 2.5" stroke-opacity="0.7"/>
<polygon points="1280.68,145.74 1285.48,154.14 1275.88,154.14" fill="#f01418" stroke="#9cc4f0" stroke-width="0.6"/>
<polygon points="1280.68,168.75 1285.48,160.35 1275.88,160.35" fill="#f01418" stroke="#9cc4f0" stroke-width="0.6"/>
<polygon points="1305.89,123.41 1310.69,131.81 1301.09,131.81" fill="#f01418" stroke="#9cc4f0" stroke-width="0.6"/>
<polygon points="1305.89,170.73 1310.69,162.33 1301.09,162.33" fill="#f01418" stroke="#9cc4f0" stroke-width="0.6"/>
<polygon points="1305.89,132.30 1310.69,140.70 1301.09,140.70" fill="#8a78c4" fill-opacity="0.9"/>
<polygon points="1305.89,160.70 1310.69,152.30 1301.09,152.30" fill="#8a78c4" fill-opacity="0.9"/>
<polygon points="1331.11,104.23 1335.91,112.63 1326.31,112.63" fill="#f01418" stroke="#9cc4f0" stroke-width="0.6"/>
<polygon points="1331.11,170.74 1335.91,162.34 1326.31,162.34" fill="#f01418" stroke="#9cc4f0" stroke-width="0.6"/>
<polygon points="1331.11,111.63 1335.91,120.03 1326.31,120.03" fill="#8a78c4" fill-opacity="0.9"/>
<polygon points="1331.11,161.20 1335.91,152.80 1326.31,152.80" fill="#8a78c4" fill-opacity="0.9"/>
<polygon points="1364.43,79.49 1369.23,87.89 1359.63,87.89" fill="#f01418" stroke="#9cc4f0" stroke-width="0.6"/>
<polygon points="1364.43,170.74 1369.23,162.34 1359.63,162.34" fill="#f01418" stroke="#9cc4f0" stroke-width="0.6"/>
<polygon points="1364.43,86.61 1369.23,95.01 1359.63,95.01" fill="#8a78c4" fill-opacity="0.9"/>
<polygon points="1364.43,161.20 1369.23,152.80 1359.63,152.80" fill="#8a78c4" fill-opacity="0.9"/>
<polygon points="1364.43,97.44 1365.99,102.20 1370.99,102.21 1366.95,105.16 1368.49,109.92 1364.43,106.99 1360.38,109.92 1361.91,105.16 1357.87,102.21 1362.87,102.20" fill="#3a0a8c"/>
<polygon points="1364.43,126.92 1365.99,131.68 1370.99,131.69 1366.95,134.64 1368.49,139.40 1364.43,136.47 1360.38,139.40 1361.91,134.64 1357.87,131.69 1362.87,131.68" fill="#3a0a8c"/>
<polygon points="1389.64,60.87 1394.44,69.27 1384.84,69.27" fill="#f01418" stroke="#9cc4f0" stroke-width="0.6"/>
<polygon points="1389.64,170.74 1394.44,162.34 1384.84,162.34" fill="#f01418" stroke="#9cc4f0" stroke-width="0.6"/>
<polygon points="1389.64,67.94 1394.44,76.34 1384.84,76.34" fill="#8a78c4" fill-opacity="0.9"/>
<polygon points="1389.64,161.20 1394.44,152.80 1384.84,152.80" fill="#8a78c4" fill-opacity="0.9"/>
<polygon points="1389.64,78.32 1391.20,83.08 1396.20,83.09 1392.16,86.04 1393.70,90.80 1389.64,87.87 1385.59,90.80 1387.12,86.04 1383.08,83.09 1388.08,83.08" fill="#3a0a8c"/>
<polygon points="1389.64,126.92 1391.20,131.68 1396.20,131.69 1392.16,134.64 1393.70,139.40 1389.64,136.47 1385.59,139.40 1387.12,134.64 1383.08,131.69 1388.08,131.68" fill="#3a0a8c"/>
<polygon points="1414.85,42.26 1419.65,50.66 1410.05,50.66" fill="#f01418" stroke="#9cc4f0" stroke-width="0.6"/>
<polygon points="1414.85,170.74 1419.65,162.34 1410.05,162.34" fill="#f01418" stroke="#9cc4f0" stroke-width="0.6"/>
<polygon points="1414.85,49.33 1419.65,57.73 1410.05,57.73" fill="#8a78c4" fill-opacity="0.9"/>
<polygon points="1414.85,161.20 1419.65,152.80 1410.05,152.80" fill="#8a78c4" fill-opacity="0.9"/>
<polygon points="1414.85,59.60 1416.41,64.36 1421.41,64.37 1417.37,67.32 1418.91,72.08 1414.85,69.15 1410.80,72.08 1412.33,67.32 1408.29,64.37 1413.29,64.36" fill="#3a0a8c"/>
<polygon points="1414.85,126.92 1416.41,131.68 1421.41,131.69 1417.37,134.64 1418.91,139.40 1414.85,136.47 1410.80,139.40 1412.33,134.64 1408.29,131.69 1413.29,131.68" fill="#3a0a8c"/>
<polygon points="1448.18,17.67 1452.98,26.07 1443.38,26.07" fill="#f01418" stroke="#9cc4f0" stroke-width="0.6"/>
<polygon points="1448.18,170.74 1452.98,162.34 1443.38,162.34" fill="#f01418" stroke="#9cc4f0" stroke-width="0.6"/>
<polygon points="1448.18,24.73 1452.98,33.13 1443.38,33.13" fill="#8a78c4" fill-opacity="0.9"/>
<polygon points="1448.18,161.20 1452.98,152.80 1443.38,152.80" fill="#8a78c4" fill-opacity="0.9"/>
<polygon points="1448.18,34.97 1449.74,39.73 1454.74,39.74 1450.70,42.69 1452.23,47.46 1448.18,44.52 1444.12,47.46 1445.66,42.69 1441.62,39.74 1446.62,39.73" fill="#3a0a8c"/>
<polygon points="1448.18,126.92 1449.74,131.68 1454.74,131.69 1450.70,134.64 1452.23,139.40 1448.18,136.47 1444.12,139.40 1445.66,134.64 1441.62,131.69 1446.62,131.68" fill="#3a0a8c"/>
<polygon points="1473.39,-0.94 1478.19,7.46 1468.59,7.46" fill="#f01418" stroke="#9cc4f0" stroke-width="0.6"/>
<polygon points="1473.39,170.74 1478.19,162.34 1468.59,162.34" fill="#f01418" stroke="#9cc4f0" stroke-width="0.6"/>
<polygon points="1473.39,6.13 1478.19,14.53 1468.59,14.53" fill="#8a78c4" fill-opacity="0.9"/>
<polygon points="1473.39,161.20 1478.19,152.80 1468.59,152.80" fill="#8a78c4" fill-opacity="0.9"/>
<polygon points="1473.39,16.37 1474.95,21.12 1479.95,21.13 1475.91,24.09 1477.45,28.85 1473.39,25.92 1469.33,28.85 1470.87,24.09 1466.83,21.13 1471.83,21.12" fill="#3a0a8c"/>
<polygon points="1473.39,126.92 1474.95,131.68 1479.95,131.69 1475.91,134.64 1477.45,139.40 1473.39,136.47 1469.33,139.40 1470.87,134.64 1466.83,131.69 1471.83,131.68" fill="#3a0a8c"/>
</g>
<rect x="1138.4" y="13.0" width="360.2" height="265.8" fill="none" stroke="#000" stroke-width="1.2"/>
<line x1="1138.40" y1="278.80" x2="1138.40" y2="284.40" stroke="#000" stroke-width="1.1" />
<line x1="1163.61" y1="278.80" x2="1163.61" y2="282.20" stroke="#000" stroke-width="1.1" />
<line x1="1163.61" y1="13.00" x2="1163.61" y2="15.80" stroke="#000" stroke-width="1" />
<line x1="1178.36" y1="278.80" x2="1178.36" y2="282.20" stroke="#000" stroke-width="1.1" />
<line x1="1178.36" y1="13.00" x2="1178.36" y2="15.80" stroke="#000" stroke-width="1" />
<line x1="1188.82" y1="278.80" x2="1188.82" y2="282.20" stroke="#000" stroke-width="1.1" />
<line x1="1188.82" y1="13.00" x2="1188.82" y2="15.80" stroke="#000" stroke-width="1" />
<line x1="1196.94" y1="278.80" x2="1196.94" y2="282.20" stroke="#000" stroke-width="1.1" />
<line x1="1196.94" y1="13.00" x2="1196.94" y2="15.80" stroke="#000" stroke-width="1" />
<line x1="1203.57" y1="278.80" x2="1203.57" y2="282.20" stroke="#000" stroke-width="1.1" />
<line x1="1203.57" y1="13.00" x2="1203.57" y2="15.80" stroke="#000" stroke-width="1" />
<line x1="1209.17" y1="278.80" x2="1209.17" y2="282.20" stroke="#000" stroke-width="1.1" />
<line x1="1209.17" y1="13.00" x2="1209.17" y2="15.80" stroke="#000" stroke-width="1" />
<line x1="1214.03" y1="278.80" x2="1214.03" y2="282.20" stroke="#000" stroke-width="1.1" />
<line x1="1214.03" y1="13.00" x2="1214.03" y2="15.80" stroke="#000" stroke-width="1" />
<line x1="1218.32" y1="278.80" x2="1218.32" y2="282.20" stroke="#000" stroke-width="1.1" />
<line x1="1218.32" y1="13.00" x2="1218.32" y2="15.80" stroke="#000" stroke-width="1" />
<line x1="1222.15" y1="278.80" x2="1222.15" y2="284.40" stroke="#000" stroke-width="1.1" />
<line x1="1222.15" y1="13.00" x2="1222.15" y2="18.00" stroke="#000" stroke-width="1" />
<line x1="1247.36" y1="278.80" x2="1247.36" y2="282.20" stroke="#000" stroke-width="1.1" />
<line x1="1247.36" y1="13.00" x2="1247.36" y2="15.80" stroke="#000" stroke-width="1" />
<line x1="1262.11" y1="278.80" x2="1262.11" y2="282.20" stroke="#000" stroke-width="1.1" />
<line x1="1262.11" y1="13.00" x2="1262.11" y2="15.80" stroke="#000" stroke-width="1" />
<line x1="1272.57" y1="278.80" x2="1272.57" y2="282.20" stroke="#000" stroke-width="1.1" />
<line x1="1272.57" y1="13.00" x2="1272.57" y2="15.80" stroke="#000" stroke-width="1" />
<line x1="1280.68" y1="278.80" x2="1280.68" y2="282.20" stroke="#000" stroke-width="1.1" />
<line x1="1280.68" y1="13.00" x2="1280.68" y2="15.80" stroke="#000" stroke-width="1" />
<line x1="1287.32" y1="278.80" x2="1287.32" y2="282.20" stroke="#000" stroke-width="1.1" />
<line x1="1287.32" y1="13.00" x2="1287.32" y2="15.80" stroke="#000" stroke-width="1" />
<line x1="1292.92" y1="278.80" x2="1292.92" y2="282.20" stroke="#000" stroke-width="1.1" />
<line x1="1292.92" y1="13.00" x2="1292.92" y2="15.80" stroke="#000" stroke-width="1" />
<line x1="1297.78" y1="278.80" x2="1297.78" y2="282.20" stroke="#000" stroke-width="1.1" />
<line x1="1297.78" y1="13.00" x2="1297.78" y2="15.80" stroke="#000" stroke-width="1" />
<line x1="1302.06" y1="278.80" x2="1302.06" y2="282.20" stroke="#000" stroke-width="1.1" />
<line x1="1302.06" y1="13.00" x2="1302.06" y2="15.80" stroke="#000" stroke-width="1" />
<line x1="1305.89" y1="278.80" x2="1305.89" y2="284.40" stroke="#000" stroke-width="1.1" />
<line x1="1305.89" y1="13.00" x2="1305.89" y2="18.00" stroke="#000" stroke-width="1" />
<line x1="1331.11" y1="278.80" x2="1331.11" y2="282.20" stroke="#000" stroke-width="1.1" />
<line x1="1331.11" y1="13.00" x2="1331.11" y2="15.80" stroke="#000" stroke-width="1" />
<line x1="1345.85" y1="278.80" x2="1345.85" y2="282.20" stroke="#000" stroke-width="1.1" />
<line x1="1345.85" y1="13.00" x2="1345.85" y2="15.80" stroke="#000" stroke-width="1" />
<line x1="1356.32" y1="278.80" x2="1356.32" y2="282.20" stroke="#000" stroke-width="1.1" />
<line x1="1356.32" y1="13.00" x2="1356.32" y2="15.80" stroke="#000" stroke-width="1" />
<line x1="1364.43" y1="278.80" x2="1364.43" y2="282.20" stroke="#000" stroke-width="1.1" />
<line x1="1364.43" y1="13.00" x2="1364.43" y2="15.80" stroke="#000" stroke-width="1" />
<line x1="1371.06" y1="278.80" x2="1371.06" y2="282.20" stroke="#000" stroke-width="1.1" />
<line x1="1371.06" y1="13.00" x2="1371.06" y2="15.80" stroke="#000" stroke-width="1" />
<line x1="1376.67" y1="278.80" x2="1376.67" y2="282.20" stroke="#000" stroke-width="1.1" />
<line x1="1376.67" y1="13.00" x2="1376.67" y2="15.80" stroke="#000" stroke-width="1" />
<line x1="1381.53" y1="278.80" x2="1381.53" y2="282.20" stroke="#000" stroke-width="1.1" />
<line x1="1381.53" y1="13.00" x2="1381.53" y2="15.80" stroke="#000" stroke-width="1" />
<line x1="1385.81" y1="278.80" x2="1385.81" y2="282.20" stroke="#000" stroke-width="1.1" />
<line x1="1385.81" y1="13.00" x2="1385.81" y2="15.80" stroke="#000" stroke-width="1" />
<line x1="1389.64" y1="278.80" x2="1389.64" y2="284.40" stroke="#000" stroke-width="1.1" />
<line x1="1389.64" y1="13.00" x2="1389.64" y2="18.00" stroke="#000" stroke-width="1" />
<line x1="1414.85" y1="278.80" x2="1414.85" y2="282.20" stroke="#000" stroke-width="1.1" />
<line x1="1414.85" y1="13.00" x2="1414.85" y2="15.80" stroke="#000" stroke-width="1" />
<line x1="1429.60" y1="278.80" x2="1429.60" y2="282.20" stroke="#000" stroke-width="1.1" />
<line x1="1429.60" y1="13.00" x2="1429.60" y2="15.80" stroke="#000" stroke-width="1" />
<line x1="1440.06" y1="278.80" x2="1440.06" y2="282.20" stroke="#000" stroke-width="1.1" />
<line x1="1440.06" y1="13.00" x2="1440.06" y2="15.80" stroke="#000" stroke-width="1" />
<line x1="1448.18" y1="278.80" x2="1448.18" y2="282.20" stroke="#000" stroke-width="1.1" />
<line x1="1448.18" y1="13.00" x2="1448.18" y2="15.80" stroke="#000" stroke-width="1" />
<line x1="1454.81" y1="278.80" x2="1454.81" y2="282.20" stroke="#000" stroke-width="1.1" />
<line x1="1454.81" y1="13.00" x2="1454.81" y2="15.80" stroke="#000" stroke-width="1" />
<line x1="1460.42" y1="278.80" x2="1460.42" y2="282.20" stroke="#000" stroke-width="1.1" />
<line x1="1460.42" y1="13.00" x2="1460.42" y2="15.80" stroke="#000" stroke-width="1" />
<line x1="1465.27" y1="278.80" x2="1465.27" y2="282.20" stroke="#000" stroke-width="1.1" />
<line x1="1465.27" y1="13.00" x2="1465.27" y2="15.80" stroke="#000" stroke-width="1" />
<line x1="1469.56" y1="278.80" x2="1469.56" y2="282.20" stroke="#000" stroke-width="1.1" />
<line x1="1469.56" y1="13.00" x2="1469.56" y2="15.80" stroke="#000" stroke-width="1" />
<line x1="1473.39" y1="278.80" x2="1473.39" y2="284.40" stroke="#000" stroke-width="1.1" />
<line x1="1473.39" y1="13.00" x2="1473.39" y2="18.00" stroke="#000" stroke-width="1" />
<line x1="1498.60" y1="278.80" x2="1498.60" y2="282.20" stroke="#000" stroke-width="1.1" />
<line x1="1498.60" y1="13.00" x2="1498.60" y2="15.80" stroke="#000" stroke-width="1" />
<line x1="1132.80" y1="278.80" x2="1138.40" y2="278.80" stroke="#000" stroke-width="1" />
<line x1="1135.20" y1="260.20" x2="1138.40" y2="260.20" stroke="#000" stroke-width="1" />
<line x1="1498.60" y1="260.20" x2="1495.72" y2="260.20" stroke="#000" stroke-width="1" />
<line x1="1135.20" y1="249.31" x2="1138.40" y2="249.31" stroke="#000" stroke-width="1" />
<line x1="1498.60" y1="249.31" x2="1495.72" y2="249.31" stroke="#000" stroke-width="1" />
<line x1="1135.20" y1="241.59" x2="1138.40" y2="241.59" stroke="#000" stroke-width="1" />
<line x1="1498.60" y1="241.59" x2="1495.72" y2="241.59" stroke="#000" stroke-width="1" />
<line x1="1135.20" y1="235.60" x2="1138.40" y2="235.60" stroke="#000" stroke-width="1" />
<line x1="1498.60" y1="235.60" x2="1495.72" y2="235.60" stroke="#000" stroke-width="1" />
<line x1="1135.20" y1="230.71" x2="1138.40" y2="230.71" stroke="#000" stroke-width="1" />
<line x1="1498.60" y1="230.71" x2="1495.72" y2="230.71" stroke="#000" stroke-width="1" />
<line x1="1135.20" y1="226.57" x2="1138.40" y2="226.57" stroke="#000" stroke-width="1" />
<line x1="1498.60" y1="226.57" x2="1495.72" y2="226.57" stroke="#000" stroke-width="1" />
<line x1="1135.20" y1="222.99" x2="1138.40" y2="222.99" stroke="#000" stroke-width="1" />
<line x1="1498.60" y1="222.99" x2="1495.72" y2="222.99" stroke="#000" stroke-width="1" />
<line x1="1135.20" y1="219.83" x2="1138.40" y2="219.83" stroke="#000" stroke-width="1" />
<line x1="1498.60" y1="219.83" x2="1495.72" y2="219.83" stroke="#000" stroke-width="1" />
<line x1="1132.80" y1="217.00" x2="1138.40" y2="217.00" stroke="#000" stroke-width="1" />
<line x1="1498.60" y1="217.00" x2="1493.56" y2="217.00" stroke="#000" stroke-width="1" />
<line x1="1135.20" y1="198.40" x2="1138.40" y2="198.40" stroke="#000" stroke-width="1" />
<line x1="1498.60" y1="198.40" x2="1495.72" y2="198.40" stroke="#000" stroke-width="1" />
<line x1="1135.20" y1="187.52" x2="1138.40" y2="187.52" stroke="#000" stroke-width="1" />
<line x1="1498.60" y1="187.52" x2="1495.72" y2="187.52" stroke="#000" stroke-width="1" />
<line x1="1135.20" y1="179.79" x2="1138.40" y2="179.79" stroke="#000" stroke-width="1" />
<line x1="1498.60" y1="179.79" x2="1495.72" y2="179.79" stroke="#000" stroke-width="1" />
<line x1="1135.20" y1="173.81" x2="1138.40" y2="173.81" stroke="#000" stroke-width="1" />
<line x1="1498.60" y1="173.81" x2="1495.72" y2="173.81" stroke="#000" stroke-width="1" />
<line x1="1135.20" y1="168.91" x2="1138.40" y2="168.91" stroke="#000" stroke-width="1" />
<line x1="1498.60" y1="168.91" x2="1495.72" y2="168.91" stroke="#000" stroke-width="1" />
<line x1="1135.20" y1="164.77" x2="1138.40" y2="164.77" stroke="#000" stroke-width="1" />
<line x1="1498.60" y1="164.77" x2="1495.72" y2="164.77" stroke="#000" stroke-width="1" />
<line x1="1135.20" y1="161.19" x2="1138.40" y2="161.19" stroke="#000" stroke-width="1" />
<line x1="1498.60" y1="161.19" x2="1495.72" y2="161.19" stroke="#000" stroke-width="1" />
<line x1="1135.20" y1="158.03" x2="1138.40" y2="158.03" stroke="#000" stroke-width="1" />
<line x1="1498.60" y1="158.03" x2="1495.72" y2="158.03" stroke="#000" stroke-width="1" />
<line x1="1132.80" y1="155.20" x2="1138.40" y2="155.20" stroke="#000" stroke-width="1" />
<line x1="1498.60" y1="155.20" x2="1493.56" y2="155.20" stroke="#000" stroke-width="1" />
<line x1="1135.20" y1="136.60" x2="1138.40" y2="136.60" stroke="#000" stroke-width="1" />
<line x1="1498.60" y1="136.60" x2="1495.72" y2="136.60" stroke="#000" stroke-width="1" />
<line x1="1135.20" y1="125.72" x2="1138.40" y2="125.72" stroke="#000" stroke-width="1" />
<line x1="1498.60" y1="125.72" x2="1495.72" y2="125.72" stroke="#000" stroke-width="1" />
<line x1="1135.20" y1="117.99" x2="1138.40" y2="117.99" stroke="#000" stroke-width="1" />
<line x1="1498.60" y1="117.99" x2="1495.72" y2="117.99" stroke="#000" stroke-width="1" />
<line x1="1135.20" y1="112.01" x2="1138.40" y2="112.01" stroke="#000" stroke-width="1" />
<line x1="1498.60" y1="112.01" x2="1495.72" y2="112.01" stroke="#000" stroke-width="1" />
<line x1="1135.20" y1="107.11" x2="1138.40" y2="107.11" stroke="#000" stroke-width="1" />
<line x1="1498.60" y1="107.11" x2="1495.72" y2="107.11" stroke="#000" stroke-width="1" />
<line x1="1135.20" y1="102.98" x2="1138.40" y2="102.98" stroke="#000" stroke-width="1" />
<line x1="1498.60" y1="102.98" x2="1495.72" y2="102.98" stroke="#000" stroke-width="1" />
<line x1="1135.20" y1="99.39" x2="1138.40" y2="99.39" stroke="#000" stroke-width="1" />
<line x1="1498.60" y1="99.39" x2="1495.72" y2="99.39" stroke="#000" stroke-width="1" />
<line x1="1135.20" y1="96.23" x2="1138.40" y2="96.23" stroke="#000" stroke-width="1" />
<line x1="1498.60" y1="96.23" x2="1495.72" y2="96.23" stroke="#000" stroke-width="1" />
<line x1="1132.80" y1="93.40" x2="1138.40" y2="93.40" stroke="#000" stroke-width="1" />
<line x1="1498.60" y1="93.40" x2="1493.56" y2="93.40" stroke="#000" stroke-width="1" />
<line x1="1135.20" y1="74.80" x2="1138.40" y2="74.80" stroke="#000" stroke-width="1" />
<line x1="1498.60" y1="74.80" x2="1495.72" y2="74.80" stroke="#000" stroke-width="1" />
<line x1="1135.20" y1="63.92" x2="1138.40" y2="63.92" stroke="#000" stroke-width="1" />
<line x1="1498.60" y1="63.92" x2="1495.72" y2="63.92" stroke="#000" stroke-width="1" />
<line x1="1135.20" y1="56.20" x2="1138.40" y2="56.20" stroke="#000" stroke-width="1" />
<line x1="1498.60" y1="56.20" x2="1495.72" y2="56.20" stroke="#000" stroke-width="1" />
<line x1="1135.20" y1="50.21" x2="1138.40" y2="50.21" stroke="#000" stroke-width="1" />
<line x1="1498.60" y1="50.21" x2="1495.72" y2="50.21" stroke="#000" stroke-width="1" />
<line x1="1135.20" y1="45.31" x2="1138.40" y2="45.31" stroke="#000" stroke-width="1" />
<line x1="1498.60" y1="45.31" x2="1495.72" y2="45.31" stroke="#000" stroke-width="1" />
<line x1="1135.20" y1="41.18" x2="1138.40" y2="41.18" stroke="#000" stroke-width="1" />
<line x1="1498.60" y1="41.18" x2="1495.72" y2="41.18" stroke="#000" stroke-width="1" />
<line x1="1135.20" y1="37.59" x2="1138.40" y2="37.59" stroke="#000" stroke-width="1" />
<line x1="1498.60" y1="37.59" x2="1495.72" y2="37.59" stroke="#000" stroke-width="1" />
<line x1="1135.20" y1="34.43" x2="1138.40" y2="34.43" stroke="#000" stroke-width="1" />
<line x1="1498.60" y1="34.43" x2="1495.72" y2="34.43" stroke="#000" stroke-width="1" />
<line x1="1132.80" y1="31.60" x2="1138.40" y2="31.60" stroke="#000" stroke-width="1" />
<line x1="1498.60" y1="31.60" x2="1493.56" y2="31.60" stroke="#000" stroke-width="1" />
<line x1="1135.20" y1="13.00" x2="1138.40" y2="13.00" stroke="#000" stroke-width="1" />
<line x1="1498.60" y1="13.00" x2="1495.72" y2="13.00" stroke="#000" stroke-width="1" />
<text x="1138.90" y="317.30" font-family='"Liberation Sans", Arial, sans-serif' font-size="31" text-anchor="middle" fill="#000">10<tspan font-size="18.9" dy="-15.5">0</tspan></text>
<text x="1128.50" y="290.80" font-family='"Liberation Sans", Arial, sans-serif' font-size="31" text-anchor="end" fill="#000">10<tspan font-size="18.9" dy="-15.5">0</tspan></text>
<text x="1222.65" y="317.30" font-family='"Liberation Sans", Arial, sans-serif' font-size="31" text-anchor="middle" fill="#000">10<tspan font-size="18.9" dy="-15.5">1</tspan></text>
<text x="1128.50" y="229.00" font-family='"Liberation Sans", Arial, sans-serif' font-size="31" text-anchor="end" fill="#000">10<tspan font-size="18.9" dy="-15.5">1</tspan></text>
<text x="1306.39" y="317.30" font-family='"Liberation Sans", Arial, sans-serif' font-size="31" text-anchor="middle" fill="#000">10<tspan font-size="18.9" dy="-15.5">2</tspan></text>
<text x="1128.50" y="167.20" font-family='"Liberation Sans", Arial, sans-serif' font-size="31" text-anchor="end" fill="#000">10<tspan font-size="18.9" dy="-15.5">2</tspan></text>
<text x="1390.14" y="317.30" font-family='"Liberation Sans", Arial, sans-serif' font-size="31" text-anchor="middle" fill="#000">10<tspan font-size="18.9" dy="-15.5">3</tspan></text>
<text x="1128.50" y="105.40" font-family='"Liberation Sans", Arial, sans-serif' font-size="31" text-anchor="end" fill="#000">10<tspan font-size="18.9" dy="-15.5">3</tspan></text>
<text x="1473.89" y="317.30" font-family='"Liberation Sans", Arial, sans-serif' font-size="31" text-anchor="middle" fill="#000">10<tspan font-size="18.9" dy="-15.5">4</tspan></text>
<text x="1128.50" y="43.60" font-family='"Liberation Sans", Arial, sans-serif' font-size="31" text-anchor="end" fill="#000">10<tspan font-size="18.9" dy="-15.5">4</tspan></text>
<line x1="1318.6" y1="176.6" x2="1318.6" y2="153.1" stroke="#000" stroke-width="2"/>
<path d="M1318.6,141.1 L1327.0,169.1 Q1322.1,164.1 1318.6,162.1 Q1315.1,164.1 1310.1999999999998,169.1 Z" fill="#000"/>
<line x1="1380.3" y1="198.3" x2="1380.3" y2="173.9" stroke="#000" stroke-width="2"/>
<path d="M1380.3,161.9 L1388.7,189.9 Q1383.8,184.9 1380.3,182.9 Q1376.8,184.9 1371.8999999999999,189.9 Z" fill="#000"/>
<text x="1272.10" y="205.20" font-family='"DejaVu Sans", "Liberation Sans", sans-serif' font-size="29.5" text-anchor="start" fill="#4a2030" stroke="#f06090" stroke-width="0.6">&gt;95%</text>
<text x="1391.00" y="205.20" font-family='"DejaVu Sans", "Liberation Sans", sans-serif' font-size="29.3" text-anchor="start" fill="#4a1818" stroke="#e02030" stroke-width="0.6">&gt;90%</text>
<text x="1387.80" y="115.50" font-family='"DejaVu Sans", "Liberation Sans", sans-serif' font-size="31" text-anchor="start" fill="#fff" stroke="#333" stroke-width="1.3" paint-order="stroke">&gt;99%</text>
<text x="1031.90" y="34.00" font-family='"DejaVu Sans", "Liberation Sans", sans-serif' font-size="41" text-anchor="start" fill="#000" >(c)</text>
<text x="1281.40" y="347.60" font-family='"Liberation Sans", Arial, sans-serif' font-size="35" font-style="italic" fill="#000">l</text>
<text x="1299.40" y="347.60" font-family='"Liberation Sans", Arial, sans-serif' font-size="35" fill="#000">(nm)</text>
<g transform="translate(1077.40,212.20) rotate(-90)" font-family='"Liberation Sans", Arial, sans-serif' font-size="31" fill="#000"><text x="0" y="0" font-family='"Liberation Serif", "DejaVu Serif", serif' font-size="34.7">&#955;</text><text x="24.60" y="0">(nm)</text></g>
<clipPath id="ce"><rect x="1138.4" y="369.2" width="360.1999999999998" height="265.8"/></clipPath>
<g clip-path="url(#ce)">
<line x1="1222.14" y1="369.20" x2="1222.14" y2="635.00" stroke="#666" stroke-width="1.4" stroke-opacity="0.5"/>
<line x1="1305.88" y1="369.20" x2="1305.88" y2="635.00" stroke="#666" stroke-width="1.4" stroke-opacity="0.5"/>
<line x1="1389.62" y1="369.20" x2="1389.62" y2="635.00" stroke="#666" stroke-width="1.4" stroke-opacity="0.5"/>
<line x1="1473.36" y1="369.20" x2="1473.36" y2="635.00" stroke="#666" stroke-width="1.4" stroke-opacity="0.5"/>
<line x1="1138.40" y1="573.20" x2="1498.60" y2="573.20" stroke="#444" stroke-width="0.8" stroke-dasharray="2 2.5"/>
<line x1="1138.40" y1="511.40" x2="1498.60" y2="511.40" stroke="#444" stroke-width="0.8" stroke-dasharray="2 2.5"/>
<line x1="1138.40" y1="449.60" x2="1498.60" y2="449.60" stroke="#444" stroke-width="0.8" stroke-dasharray="2 2.5"/>
<line x1="1138.40" y1="387.80" x2="1498.60" y2="387.80" stroke="#444" stroke-width="0.8" stroke-dasharray="2 2.5"/>
<polygon points="1138.40,377.53 1163.61,377.53 1196.94,377.53 1222.15,377.53 1247.36,377.53 1280.68,377.53 1305.89,377.53 1331.11,377.55 1364.43,377.70 1389.64,378.28 1414.85,381.60 1423.56,385.95 1414.85,395.75 1389.64,416.33 1364.43,434.95 1331.11,459.54 1305.89,478.14 1280.68,496.75 1247.36,521.34 1222.15,539.94 1196.94,558.55 1163.61,583.14 1138.40,601.74" fill="#fac4c4"/>
<polygon points="1138.40,385.02 1163.61,385.02 1196.94,385.02 1222.15,385.02 1247.36,385.02 1280.68,385.02 1305.89,385.04 1331.11,385.09 1364.43,385.52 1389.64,387.59 1389.64,406.30 1364.43,425.41 1331.11,450.00 1305.89,468.61 1280.68,487.21 1247.36,511.80 1222.15,530.41 1196.94,549.01 1163.61,573.60 1138.40,592.21" fill="#dc94c0"/>
<polygon points="1392.14,385.02 1392.14,402.80 1396.42,396.79 1396.42,385.02" fill="#dc94c0"/>
<polygon points="1399.74,385.02 1399.74,392.14 1404.82,385.02 1404.82,385.02" fill="#dc94c0"/>
<polygon points="1138.40,396.13 1163.61,396.13 1196.94,396.13 1222.15,396.13 1247.36,396.13 1280.68,396.17 1305.89,396.28 1331.11,396.80 1331.11,428.22 1305.89,446.83 1280.68,465.43 1247.36,490.02 1222.15,508.63 1196.94,527.23 1163.61,551.82 1138.40,570.43" fill="#b784d4"/>
<polygon points="1334.57,396.13 1334.57,425.03 1341.48,418.66 1341.48,396.13" fill="#b784d4"/>
<polygon points="1345.61,396.13 1345.61,414.86 1352.38,408.61 1352.38,396.13" fill="#b784d4"/>
<polygon points="1355.77,396.13 1355.77,405.50 1365.93,396.13 1365.93,396.13" fill="#b784d4"/>
<line x1="1222.15" y1="369.20" x2="1222.15" y2="635.00" stroke="#555" stroke-width="1.4" stroke-opacity="0.45"/>
<line x1="1305.89" y1="369.20" x2="1305.89" y2="635.00" stroke="#555" stroke-width="1.4" stroke-opacity="0.45"/>
<line x1="1389.64" y1="369.20" x2="1389.64" y2="635.00" stroke="#555" stroke-width="1.4" stroke-opacity="0.45"/>
<line x1="1473.39" y1="369.20" x2="1473.39" y2="635.00" stroke="#555" stroke-width="1.4" stroke-opacity="0.45"/>
<line x1="1138.40" y1="573.20" x2="1498.60" y2="573.20" stroke="#444" stroke-width="0.8" stroke-dasharray="2 2.5" stroke-opacity="0.7"/>
<line x1="1138.40" y1="511.40" x2="1498.60" y2="511.40" stroke="#444" stroke-width="0.8" stroke-dasharray="2 2.5" stroke-opacity="0.7"/>
<line x1="1138.40" y1="449.60" x2="1498.60" y2="449.60" stroke="#444" stroke-width="0.8" stroke-dasharray="2 2.5" stroke-opacity="0.7"/>
<line x1="1138.40" y1="387.80" x2="1498.60" y2="387.80" stroke="#444" stroke-width="0.8" stroke-dasharray="2 2.5" stroke-opacity="0.7"/>
<polygon points="1138.40,373.87 1143.20,382.27 1133.60,382.27" fill="#f01418" stroke="#9cc4f0" stroke-width="0.6"/>
<polygon points="1138.40,607.34 1143.20,598.94 1133.60,598.94" fill="#f01418" stroke="#9cc4f0" stroke-width="0.6"/>
<polygon points="1138.40,380.93 1143.20,389.33 1133.60,389.33" fill="#8a78c4" fill-opacity="0.9"/>
<polygon points="1138.40,597.81 1143.20,589.41 1133.60,589.41" fill="#8a78c4" fill-opacity="0.9"/>
<polygon points="1138.40,391.17 1139.96,395.92 1144.96,395.94 1140.92,398.89 1142.46,403.65 1138.40,400.72 1134.34,403.65 1135.88,398.89 1131.84,395.94 1136.84,395.92" fill="#3a0a8c"/>
<polygon points="1138.40,563.53 1139.96,568.28 1144.96,568.29 1140.92,571.24 1142.46,576.01 1138.40,573.08 1134.34,576.01 1135.88,571.24 1131.84,568.29 1136.84,568.28" fill="#3a0a8c"/>
<polygon points="1163.61,373.87 1168.41,382.27 1158.81,382.27" fill="#f01418" stroke="#9cc4f0" stroke-width="0.6"/>
<polygon points="1163.61,588.74 1168.41,580.34 1158.81,580.34" fill="#f01418" stroke="#9cc4f0" stroke-width="0.6"/>
<polygon points="1163.61,380.93 1168.41,389.33 1158.81,389.33" fill="#8a78c4" fill-opacity="0.9"/>
<polygon points="1163.61,579.20 1168.41,570.80 1158.81,570.80" fill="#8a78c4" fill-opacity="0.9"/>
<polygon points="1163.61,391.17 1165.17,395.92 1170.17,395.94 1166.13,398.89 1167.67,403.65 1163.61,400.72 1159.55,403.65 1161.09,398.89 1157.05,395.94 1162.05,395.92" fill="#3a0a8c"/>
<polygon points="1163.61,544.92 1165.17,549.68 1170.17,549.69 1166.13,552.64 1167.67,557.40 1163.61,554.47 1159.55,557.40 1161.09,552.64 1157.05,549.69 1162.05,549.68" fill="#3a0a8c"/>
<polygon points="1196.94,373.87 1201.74,382.27 1192.14,382.27" fill="#f01418" stroke="#9cc4f0" stroke-width="0.6"/>
<polygon points="1196.94,564.15 1201.74,555.75 1192.14,555.75" fill="#f01418" stroke="#9cc4f0" stroke-width="0.6"/>
<polygon points="1196.94,380.93 1201.74,389.33 1192.14,389.33" fill="#8a78c4" fill-opacity="0.9"/>
<polygon points="1196.94,554.61 1201.74,546.21 1192.14,546.21" fill="#8a78c4" fill-opacity="0.9"/>
<polygon points="1196.94,391.17 1198.49,395.93 1203.50,395.94 1199.46,398.89 1200.99,403.65 1196.94,400.72 1192.88,403.65 1194.42,398.89 1190.37,395.94 1195.38,395.93" fill="#3a0a8c"/>
<polygon points="1196.94,520.33 1198.49,525.09 1203.50,525.10 1199.46,528.05 1200.99,532.81 1196.94,529.88 1192.88,532.81 1194.42,528.05 1190.37,525.10 1195.38,525.09" fill="#3a0a8c"/>
<polygon points="1222.15,373.87 1226.95,382.27 1217.35,382.27" fill="#f01418" stroke="#9cc4f0" stroke-width="0.6"/>
<polygon points="1222.15,545.54 1226.95,537.14 1217.35,537.14" fill="#f01418" stroke="#9cc4f0" stroke-width="0.6"/>
<polygon points="1222.15,380.93 1226.95,389.33 1217.35,389.33" fill="#8a78c4" fill-opacity="0.9"/>
<polygon points="1222.15,536.01 1226.95,527.61 1217.35,527.61" fill="#8a78c4" fill-opacity="0.9"/>
<polygon points="1222.15,391.17 1223.71,395.93 1228.71,395.94 1224.67,398.89 1226.20,403.65 1222.15,400.72 1218.09,403.65 1219.63,398.89 1215.59,395.94 1220.59,395.93" fill="#3a0a8c"/>
<polygon points="1222.15,501.73 1223.71,506.48 1228.71,506.49 1224.67,509.45 1226.20,514.21 1222.15,511.28 1218.09,514.21 1219.63,509.45 1215.59,506.49 1220.59,506.48" fill="#3a0a8c"/>
<polygon points="1247.36,373.87 1252.16,382.27 1242.56,382.27" fill="#f01418" stroke="#9cc4f0" stroke-width="0.6"/>
<polygon points="1247.36,526.94 1252.16,518.54 1242.56,518.54" fill="#f01418" stroke="#9cc4f0" stroke-width="0.6"/>
<polygon points="1247.36,380.93 1252.16,389.33 1242.56,389.33" fill="#8a78c4" fill-opacity="0.9"/>
<polygon points="1247.36,517.40 1252.16,509.00 1242.56,509.00" fill="#8a78c4" fill-opacity="0.9"/>
<polygon points="1247.36,391.17 1248.92,395.93 1253.92,395.94 1249.88,398.89 1251.41,403.66 1247.36,400.72 1243.30,403.66 1244.84,398.89 1240.80,395.94 1245.80,395.93" fill="#3a0a8c"/>
<polygon points="1247.36,483.12 1248.92,487.88 1253.92,487.89 1249.88,490.84 1251.41,495.60 1247.36,492.67 1243.30,495.60 1244.84,490.84 1240.80,487.89 1245.80,487.88" fill="#3a0a8c"/>
<polygon points="1280.68,373.87 1285.48,382.27 1275.88,382.27" fill="#f01418" stroke="#9cc4f0" stroke-width="0.6"/>
<polygon points="1280.68,502.35 1285.48,493.95 1275.88,493.95" fill="#f01418" stroke="#9cc4f0" stroke-width="0.6"/>
<polygon points="1280.68,380.93 1285.48,389.33 1275.88,389.33" fill="#8a78c4" fill-opacity="0.9"/>
<polygon points="1280.68,492.81 1285.48,484.41 1275.88,484.41" fill="#8a78c4" fill-opacity="0.9"/>
<polygon points="1280.68,391.21 1282.24,395.96 1287.25,395.98 1283.20,398.93 1284.74,403.69 1280.68,400.76 1276.63,403.69 1278.16,398.93 1274.12,395.98 1279.13,395.96" fill="#3a0a8c"/>
<polygon points="1280.68,458.53 1282.24,463.29 1287.25,463.30 1283.20,466.25 1284.74,471.01 1280.68,468.08 1276.63,471.01 1278.16,466.25 1274.12,463.30 1279.13,463.29" fill="#3a0a8c"/>
<polygon points="1305.89,373.87 1310.69,382.27 1301.09,382.27" fill="#f01418" stroke="#9cc4f0" stroke-width="0.6"/>
<polygon points="1305.89,483.74 1310.69,475.34 1301.09,475.34" fill="#f01418" stroke="#9cc4f0" stroke-width="0.6"/>
<polygon points="1305.89,380.95 1310.69,389.35 1301.09,389.35" fill="#8a78c4" fill-opacity="0.9"/>
<polygon points="1305.89,474.21 1310.69,465.81 1301.09,465.81" fill="#8a78c4" fill-opacity="0.9"/>
<polygon points="1305.89,391.33 1307.45,396.08 1312.46,396.09 1308.42,399.04 1309.95,403.81 1305.89,400.88 1301.84,403.81 1303.37,399.04 1299.33,396.09 1304.34,396.08" fill="#3a0a8c"/>
<polygon points="1305.89,439.93 1307.45,444.68 1312.46,444.70 1308.42,447.65 1309.95,452.41 1305.89,449.48 1301.84,452.41 1303.37,447.65 1299.33,444.70 1304.34,444.68" fill="#3a0a8c"/>
<polygon points="1331.11,373.89 1335.91,382.29 1326.31,382.29" fill="#f01418" stroke="#9cc4f0" stroke-width="0.6"/>
<polygon points="1331.11,465.14 1335.91,456.74 1326.31,456.74" fill="#f01418" stroke="#9cc4f0" stroke-width="0.6"/>
<polygon points="1331.11,381.01 1335.91,389.41 1326.31,389.41" fill="#8a78c4" fill-opacity="0.9"/>
<polygon points="1331.11,455.60 1335.91,447.20 1326.31,447.20" fill="#8a78c4" fill-opacity="0.9"/>
<polygon points="1331.11,391.84 1332.66,396.60 1337.67,396.61 1333.63,399.56 1335.16,404.32 1331.11,401.39 1327.05,404.32 1328.58,399.56 1324.54,396.61 1329.55,396.60" fill="#3a0a8c"/>
<polygon points="1331.11,421.32 1332.66,426.08 1337.67,426.09 1333.63,429.04 1335.16,433.81 1331.11,430.87 1327.05,433.81 1328.58,429.04 1324.54,426.09 1329.55,426.08" fill="#3a0a8c"/>
<polygon points="1364.43,374.04 1369.23,382.44 1359.63,382.44" fill="#f01418" stroke="#9cc4f0" stroke-width="0.6"/>
<polygon points="1364.43,440.55 1369.23,432.15 1359.63,432.15" fill="#f01418" stroke="#9cc4f0" stroke-width="0.6"/>
<polygon points="1364.43,381.43 1369.23,389.83 1359.63,389.83" fill="#8a78c4" fill-opacity="0.9"/>
<polygon points="1364.43,431.01 1369.23,422.61 1359.63,422.61" fill="#8a78c4" fill-opacity="0.9"/>
<polygon points="1389.64,374.62 1394.44,383.02 1384.84,383.02" fill="#f01418" stroke="#9cc4f0" stroke-width="0.6"/>
<polygon points="1389.64,421.93 1394.44,413.53 1384.84,413.53" fill="#f01418" stroke="#9cc4f0" stroke-width="0.6"/>
<polygon points="1389.64,383.51 1394.44,391.91 1384.84,391.91" fill="#8a78c4" fill-opacity="0.9"/>
<polygon points="1389.64,411.90 1394.44,403.50 1384.84,403.50" fill="#8a78c4" fill-opacity="0.9"/>
<polygon points="1414.85,378.34 1419.65,386.74 1410.05,386.74" fill="#f01418" stroke="#9cc4f0" stroke-width="0.6"/>
<polygon points="1414.85,401.35 1419.65,392.95 1410.05,392.95" fill="#f01418" stroke="#9cc4f0" stroke-width="0.6"/>
</g>
<rect x="1138.4" y="369.2" width="360.2" height="265.8" fill="none" stroke="#000" stroke-width="1.2"/>
<line x1="1138.40" y1="635.00" x2="1138.40" y2="640.60" stroke="#000" stroke-width="1.1" />
<line x1="1163.61" y1="635.00" x2="1163.61" y2="638.40" stroke="#000" stroke-width="1.1" />
<line x1="1163.61" y1="369.20" x2="1163.61" y2="372.00" stroke="#000" stroke-width="1" />
<line x1="1178.36" y1="635.00" x2="1178.36" y2="638.40" stroke="#000" stroke-width="1.1" />
<line x1="1178.36" y1="369.20" x2="1178.36" y2="372.00" stroke="#000" stroke-width="1" />
<line x1="1188.82" y1="635.00" x2="1188.82" y2="638.40" stroke="#000" stroke-width="1.1" />
<line x1="1188.82" y1="369.20" x2="1188.82" y2="372.00" stroke="#000" stroke-width="1" />
<line x1="1196.94" y1="635.00" x2="1196.94" y2="638.40" stroke="#000" stroke-width="1.1" />
<line x1="1196.94" y1="369.20" x2="1196.94" y2="372.00" stroke="#000" stroke-width="1" />
<line x1="1203.57" y1="635.00" x2="1203.57" y2="638.40" stroke="#000" stroke-width="1.1" />
<line x1="1203.57" y1="369.20" x2="1203.57" y2="372.00" stroke="#000" stroke-width="1" />
<line x1="1209.17" y1="635.00" x2="1209.17" y2="638.40" stroke="#000" stroke-width="1.1" />
<line x1="1209.17" y1="369.20" x2="1209.17" y2="372.00" stroke="#000" stroke-width="1" />
<line x1="1214.03" y1="635.00" x2="1214.03" y2="638.40" stroke="#000" stroke-width="1.1" />
<line x1="1214.03" y1="369.20" x2="1214.03" y2="372.00" stroke="#000" stroke-width="1" />
<line x1="1218.32" y1="635.00" x2="1218.32" y2="638.40" stroke="#000" stroke-width="1.1" />
<line x1="1218.32" y1="369.20" x2="1218.32" y2="372.00" stroke="#000" stroke-width="1" />
<line x1="1222.15" y1="635.00" x2="1222.15" y2="640.60" stroke="#000" stroke-width="1.1" />
<line x1="1222.15" y1="369.20" x2="1222.15" y2="374.20" stroke="#000" stroke-width="1" />
<line x1="1247.36" y1="635.00" x2="1247.36" y2="638.40" stroke="#000" stroke-width="1.1" />
<line x1="1247.36" y1="369.20" x2="1247.36" y2="372.00" stroke="#000" stroke-width="1" />
<line x1="1262.11" y1="635.00" x2="1262.11" y2="638.40" stroke="#000" stroke-width="1.1" />
<line x1="1262.11" y1="369.20" x2="1262.11" y2="372.00" stroke="#000" stroke-width="1" />
<line x1="1272.57" y1="635.00" x2="1272.57" y2="638.40" stroke="#000" stroke-width="1.1" />
<line x1="1272.57" y1="369.20" x2="1272.57" y2="372.00" stroke="#000" stroke-width="1" />
<line x1="1280.68" y1="635.00" x2="1280.68" y2="638.40" stroke="#000" stroke-width="1.1" />
<line x1="1280.68" y1="369.20" x2="1280.68" y2="372.00" stroke="#000" stroke-width="1" />
<line x1="1287.32" y1="635.00" x2="1287.32" y2="638.40" stroke="#000" stroke-width="1.1" />
<line x1="1287.32" y1="369.20" x2="1287.32" y2="372.00" stroke="#000" stroke-width="1" />
<line x1="1292.92" y1="635.00" x2="1292.92" y2="638.40" stroke="#000" stroke-width="1.1" />
<line x1="1292.92" y1="369.20" x2="1292.92" y2="372.00" stroke="#000" stroke-width="1" />
<line x1="1297.78" y1="635.00" x2="1297.78" y2="638.40" stroke="#000" stroke-width="1.1" />
<line x1="1297.78" y1="369.20" x2="1297.78" y2="372.00" stroke="#000" stroke-width="1" />
<line x1="1302.06" y1="635.00" x2="1302.06" y2="638.40" stroke="#000" stroke-width="1.1" />
<line x1="1302.06" y1="369.20" x2="1302.06" y2="372.00" stroke="#000" stroke-width="1" />
<line x1="1305.89" y1="635.00" x2="1305.89" y2="640.60" stroke="#000" stroke-width="1.1" />
<line x1="1305.89" y1="369.20" x2="1305.89" y2="374.20" stroke="#000" stroke-width="1" />
<line x1="1331.11" y1="635.00" x2="1331.11" y2="638.40" stroke="#000" stroke-width="1.1" />
<line x1="1331.11" y1="369.20" x2="1331.11" y2="372.00" stroke="#000" stroke-width="1" />
<line x1="1345.85" y1="635.00" x2="1345.85" y2="638.40" stroke="#000" stroke-width="1.1" />
<line x1="1345.85" y1="369.20" x2="1345.85" y2="372.00" stroke="#000" stroke-width="1" />
<line x1="1356.32" y1="635.00" x2="1356.32" y2="638.40" stroke="#000" stroke-width="1.1" />
<line x1="1356.32" y1="369.20" x2="1356.32" y2="372.00" stroke="#000" stroke-width="1" />
<line x1="1364.43" y1="635.00" x2="1364.43" y2="638.40" stroke="#000" stroke-width="1.1" />
<line x1="1364.43" y1="369.20" x2="1364.43" y2="372.00" stroke="#000" stroke-width="1" />
<line x1="1371.06" y1="635.00" x2="1371.06" y2="638.40" stroke="#000" stroke-width="1.1" />
<line x1="1371.06" y1="369.20" x2="1371.06" y2="372.00" stroke="#000" stroke-width="1" />
<line x1="1376.67" y1="635.00" x2="1376.67" y2="638.40" stroke="#000" stroke-width="1.1" />
<line x1="1376.67" y1="369.20" x2="1376.67" y2="372.00" stroke="#000" stroke-width="1" />
<line x1="1381.53" y1="635.00" x2="1381.53" y2="638.40" stroke="#000" stroke-width="1.1" />
<line x1="1381.53" y1="369.20" x2="1381.53" y2="372.00" stroke="#000" stroke-width="1" />
<line x1="1385.81" y1="635.00" x2="1385.81" y2="638.40" stroke="#000" stroke-width="1.1" />
<line x1="1385.81" y1="369.20" x2="1385.81" y2="372.00" stroke="#000" stroke-width="1" />
<line x1="1389.64" y1="635.00" x2="1389.64" y2="640.60" stroke="#000" stroke-width="1.1" />
<line x1="1389.64" y1="369.20" x2="1389.64" y2="374.20" stroke="#000" stroke-width="1" />
<line x1="1414.85" y1="635.00" x2="1414.85" y2="638.40" stroke="#000" stroke-width="1.1" />
<line x1="1414.85" y1="369.20" x2="1414.85" y2="372.00" stroke="#000" stroke-width="1" />
<line x1="1429.60" y1="635.00" x2="1429.60" y2="638.40" stroke="#000" stroke-width="1.1" />
<line x1="1429.60" y1="369.20" x2="1429.60" y2="372.00" stroke="#000" stroke-width="1" />
<line x1="1440.06" y1="635.00" x2="1440.06" y2="638.40" stroke="#000" stroke-width="1.1" />
<line x1="1440.06" y1="369.20" x2="1440.06" y2="372.00" stroke="#000" stroke-width="1" />
<line x1="1448.18" y1="635.00" x2="1448.18" y2="638.40" stroke="#000" stroke-width="1.1" />
<line x1="1448.18" y1="369.20" x2="1448.18" y2="372.00" stroke="#000" stroke-width="1" />
<line x1="1454.81" y1="635.00" x2="1454.81" y2="638.40" stroke="#000" stroke-width="1.1" />
<line x1="1454.81" y1="369.20" x2="1454.81" y2="372.00" stroke="#000" stroke-width="1" />
<line x1="1460.42" y1="635.00" x2="1460.42" y2="638.40" stroke="#000" stroke-width="1.1" />
<line x1="1460.42" y1="369.20" x2="1460.42" y2="372.00" stroke="#000" stroke-width="1" />
<line x1="1465.27" y1="635.00" x2="1465.27" y2="638.40" stroke="#000" stroke-width="1.1" />
<line x1="1465.27" y1="369.20" x2="1465.27" y2="372.00" stroke="#000" stroke-width="1" />
<line x1="1469.56" y1="635.00" x2="1469.56" y2="638.40" stroke="#000" stroke-width="1.1" />
<line x1="1469.56" y1="369.20" x2="1469.56" y2="372.00" stroke="#000" stroke-width="1" />
<line x1="1473.39" y1="635.00" x2="1473.39" y2="640.60" stroke="#000" stroke-width="1.1" />
<line x1="1473.39" y1="369.20" x2="1473.39" y2="374.20" stroke="#000" stroke-width="1" />
<line x1="1498.60" y1="635.00" x2="1498.60" y2="638.40" stroke="#000" stroke-width="1.1" />
<line x1="1498.60" y1="369.20" x2="1498.60" y2="372.00" stroke="#000" stroke-width="1" />
<line x1="1132.80" y1="635.00" x2="1138.40" y2="635.00" stroke="#000" stroke-width="1" />
<line x1="1135.20" y1="616.40" x2="1138.40" y2="616.40" stroke="#000" stroke-width="1" />
<line x1="1498.60" y1="616.40" x2="1495.72" y2="616.40" stroke="#000" stroke-width="1" />
<line x1="1135.20" y1="605.51" x2="1138.40" y2="605.51" stroke="#000" stroke-width="1" />
<line x1="1498.60" y1="605.51" x2="1495.72" y2="605.51" stroke="#000" stroke-width="1" />
<line x1="1135.20" y1="597.79" x2="1138.40" y2="597.79" stroke="#000" stroke-width="1" />
<line x1="1498.60" y1="597.79" x2="1495.72" y2="597.79" stroke="#000" stroke-width="1" />
<line x1="1135.20" y1="591.80" x2="1138.40" y2="591.80" stroke="#000" stroke-width="1" />
<line x1="1498.60" y1="591.80" x2="1495.72" y2="591.80" stroke="#000" stroke-width="1" />
<line x1="1135.20" y1="586.91" x2="1138.40" y2="586.91" stroke="#000" stroke-width="1" />
<line x1="1498.60" y1="586.91" x2="1495.72" y2="586.91" stroke="#000" stroke-width="1" />
<line x1="1135.20" y1="582.77" x2="1138.40" y2="582.77" stroke="#000" stroke-width="1" />
<line x1="1498.60" y1="582.77" x2="1495.72" y2="582.77" stroke="#000" stroke-width="1" />
<line x1="1135.20" y1="579.19" x2="1138.40" y2="579.19" stroke="#000" stroke-width="1" />
<line x1="1498.60" y1="579.19" x2="1495.72" y2="579.19" stroke="#000" stroke-width="1" />
<line x1="1135.20" y1="576.03" x2="1138.40" y2="576.03" stroke="#000" stroke-width="1" />
<line x1="1498.60" y1="576.03" x2="1495.72" y2="576.03" stroke="#000" stroke-width="1" />
<line x1="1132.80" y1="573.20" x2="1138.40" y2="573.20" stroke="#000" stroke-width="1" />
<line x1="1498.60" y1="573.20" x2="1493.56" y2="573.20" stroke="#000" stroke-width="1" />
<line x1="1135.20" y1="554.60" x2="1138.40" y2="554.60" stroke="#000" stroke-width="1" />
<line x1="1498.60" y1="554.60" x2="1495.72" y2="554.60" stroke="#000" stroke-width="1" />
<line x1="1135.20" y1="543.72" x2="1138.40" y2="543.72" stroke="#000" stroke-width="1" />
<line x1="1498.60" y1="543.72" x2="1495.72" y2="543.72" stroke="#000" stroke-width="1" />
<line x1="1135.20" y1="535.99" x2="1138.40" y2="535.99" stroke="#000" stroke-width="1" />
<line x1="1498.60" y1="535.99" x2="1495.72" y2="535.99" stroke="#000" stroke-width="1" />
<line x1="1135.20" y1="530.01" x2="1138.40" y2="530.01" stroke="#000" stroke-width="1" />
<line x1="1498.60" y1="530.01" x2="1495.72" y2="530.01" stroke="#000" stroke-width="1" />
<line x1="1135.20" y1="525.11" x2="1138.40" y2="525.11" stroke="#000" stroke-width="1" />
<line x1="1498.60" y1="525.11" x2="1495.72" y2="525.11" stroke="#000" stroke-width="1" />
<line x1="1135.20" y1="520.97" x2="1138.40" y2="520.97" stroke="#000" stroke-width="1" />
<line x1="1498.60" y1="520.97" x2="1495.72" y2="520.97" stroke="#000" stroke-width="1" />
<line x1="1135.20" y1="517.39" x2="1138.40" y2="517.39" stroke="#000" stroke-width="1" />
<line x1="1498.60" y1="517.39" x2="1495.72" y2="517.39" stroke="#000" stroke-width="1" />
<line x1="1135.20" y1="514.23" x2="1138.40" y2="514.23" stroke="#000" stroke-width="1" />
<line x1="1498.60" y1="514.23" x2="1495.72" y2="514.23" stroke="#000" stroke-width="1" />
<line x1="1132.80" y1="511.40" x2="1138.40" y2="511.40" stroke="#000" stroke-width="1" />
<line x1="1498.60" y1="511.40" x2="1493.56" y2="511.40" stroke="#000" stroke-width="1" />
<line x1="1135.20" y1="492.80" x2="1138.40" y2="492.80" stroke="#000" stroke-width="1" />
<line x1="1498.60" y1="492.80" x2="1495.72" y2="492.80" stroke="#000" stroke-width="1" />
<line x1="1135.20" y1="481.92" x2="1138.40" y2="481.92" stroke="#000" stroke-width="1" />
<line x1="1498.60" y1="481.92" x2="1495.72" y2="481.92" stroke="#000" stroke-width="1" />
<line x1="1135.20" y1="474.19" x2="1138.40" y2="474.19" stroke="#000" stroke-width="1" />
<line x1="1498.60" y1="474.19" x2="1495.72" y2="474.19" stroke="#000" stroke-width="1" />
<line x1="1135.20" y1="468.21" x2="1138.40" y2="468.21" stroke="#000" stroke-width="1" />
<line x1="1498.60" y1="468.21" x2="1495.72" y2="468.21" stroke="#000" stroke-width="1" />
<line x1="1135.20" y1="463.31" x2="1138.40" y2="463.31" stroke="#000" stroke-width="1" />
<line x1="1498.60" y1="463.31" x2="1495.72" y2="463.31" stroke="#000" stroke-width="1" />
<line x1="1135.20" y1="459.18" x2="1138.40" y2="459.18" stroke="#000" stroke-width="1" />
<line x1="1498.60" y1="459.18" x2="1495.72" y2="459.18" stroke="#000" stroke-width="1" />
<line x1="1135.20" y1="455.59" x2="1138.40" y2="455.59" stroke="#000" stroke-width="1" />
<line x1="1498.60" y1="455.59" x2="1495.72" y2="455.59" stroke="#000" stroke-width="1" />
<line x1="1135.20" y1="452.43" x2="1138.40" y2="452.43" stroke="#000" stroke-width="1" />
<line x1="1498.60" y1="452.43" x2="1495.72" y2="452.43" stroke="#000" stroke-width="1" />
<line x1="1132.80" y1="449.60" x2="1138.40" y2="449.60" stroke="#000" stroke-width="1" />
<line x1="1498.60" y1="449.60" x2="1493.56" y2="449.60" stroke="#000" stroke-width="1" />
<line x1="1135.20" y1="431.00" x2="1138.40" y2="431.00" stroke="#000" stroke-width="1" />
<line x1="1498.60" y1="431.00" x2="1495.72" y2="431.00" stroke="#000" stroke-width="1" />
<line x1="1135.20" y1="420.12" x2="1138.40" y2="420.12" stroke="#000" stroke-width="1" />
<line x1="1498.60" y1="420.12" x2="1495.72" y2="420.12" stroke="#000" stroke-width="1" />
<line x1="1135.20" y1="412.40" x2="1138.40" y2="412.40" stroke="#000" stroke-width="1" />
<line x1="1498.60" y1="412.40" x2="1495.72" y2="412.40" stroke="#000" stroke-width="1" />
<line x1="1135.20" y1="406.41" x2="1138.40" y2="406.41" stroke="#000" stroke-width="1" />
<line x1="1498.60" y1="406.41" x2="1495.72" y2="406.41" stroke="#000" stroke-width="1" />
<line x1="1135.20" y1="401.51" x2="1138.40" y2="401.51" stroke="#000" stroke-width="1" />
<line x1="1498.60" y1="401.51" x2="1495.72" y2="401.51" stroke="#000" stroke-width="1" />
<line x1="1135.20" y1="397.38" x2="1138.40" y2="397.38" stroke="#000" stroke-width="1" />
<line x1="1498.60" y1="397.38" x2="1495.72" y2="397.38" stroke="#000" stroke-width="1" />
<line x1="1135.20" y1="393.79" x2="1138.40" y2="393.79" stroke="#000" stroke-width="1" />
<line x1="1498.60" y1="393.79" x2="1495.72" y2="393.79" stroke="#000" stroke-width="1" />
<line x1="1135.20" y1="390.63" x2="1138.40" y2="390.63" stroke="#000" stroke-width="1" />
<line x1="1498.60" y1="390.63" x2="1495.72" y2="390.63" stroke="#000" stroke-width="1" />
<line x1="1132.80" y1="387.80" x2="1138.40" y2="387.80" stroke="#000" stroke-width="1" />
<line x1="1498.60" y1="387.80" x2="1493.56" y2="387.80" stroke="#000" stroke-width="1" />
<line x1="1135.20" y1="369.20" x2="1138.40" y2="369.20" stroke="#000" stroke-width="1" />
<line x1="1498.60" y1="369.20" x2="1495.72" y2="369.20" stroke="#000" stroke-width="1" />
<text x="1138.90" y="673.50" font-family='"Liberation Sans", Arial, sans-serif' font-size="31" text-anchor="middle" fill="#000">10<tspan font-size="18.9" dy="-15.5">0</tspan></text>
<text x="1128.50" y="647.00" font-family='"Liberation Sans", Arial, sans-serif' font-size="31" text-anchor="end" fill="#000">10<tspan font-size="18.9" dy="-15.5">0</tspan></text>
<text x="1222.65" y="673.50" font-family='"Liberation Sans", Arial, sans-serif' font-size="31" text-anchor="middle" fill="#000">10<tspan font-size="18.9" dy="-15.5">1</tspan></text>
<text x="1128.50" y="585.20" font-family='"Liberation Sans", Arial, sans-serif' font-size="31" text-anchor="end" fill="#000">10<tspan font-size="18.9" dy="-15.5">1</tspan></text>
<text x="1306.39" y="673.50" font-family='"Liberation Sans", Arial, sans-serif' font-size="31" text-anchor="middle" fill="#000">10<tspan font-size="18.9" dy="-15.5">2</tspan></text>
<text x="1128.50" y="523.40" font-family='"Liberation Sans", Arial, sans-serif' font-size="31" text-anchor="end" fill="#000">10<tspan font-size="18.9" dy="-15.5">2</tspan></text>
<text x="1390.14" y="673.50" font-family='"Liberation Sans", Arial, sans-serif' font-size="31" text-anchor="middle" fill="#000">10<tspan font-size="18.9" dy="-15.5">3</tspan></text>
<text x="1128.50" y="461.60" font-family='"Liberation Sans", Arial, sans-serif' font-size="31" text-anchor="end" fill="#000">10<tspan font-size="18.9" dy="-15.5">3</tspan></text>
<text x="1473.89" y="673.50" font-family='"Liberation Sans", Arial, sans-serif' font-size="31" text-anchor="middle" fill="#000">10<tspan font-size="18.9" dy="-15.5">4</tspan></text>
<text x="1128.50" y="399.80" font-family='"Liberation Sans", Arial, sans-serif' font-size="31" text-anchor="end" fill="#000">10<tspan font-size="18.9" dy="-15.5">4</tspan></text>
<line x1="1295.7" y1="504.2" x2="1295.7" y2="480.9" stroke="#000" stroke-width="2"/>
<path d="M1295.7,468.9 L1304.1000000000001,496.9 Q1299.2,491.9 1295.7,489.9 Q1292.2,491.9 1287.3,496.9 Z" fill="#000"/>
<line x1="1208.4" y1="581.7" x2="1208.4" y2="559" stroke="#000" stroke-width="2"/>
<path d="M1208.4,547 L1216.8000000000002,575 Q1211.9,570 1208.4,568 Q1204.9,570 1200.0,575 Z" fill="#000"/>
<text x="1250.20" y="539.20" font-family='"DejaVu Sans", "Liberation Sans", sans-serif' font-size="29.3" text-anchor="start" fill="#4a2030" stroke="#f06090" stroke-width="0.6">&gt;95%</text>
<text x="1156.30" y="612.00" font-family='"DejaVu Sans", "Liberation Sans", sans-serif' font-size="29.5" text-anchor="start" fill="#4a1818" stroke="#e02030" stroke-width="0.6">&gt;90%</text>
<text x="1150.90" y="466.50" font-family='"DejaVu Sans", "Liberation Sans", sans-serif' font-size="31" text-anchor="start" fill="#fff" stroke="#333" stroke-width="1.3" paint-order="stroke">&gt;99%</text>
<text x="1031.10" y="369.50" font-family='"DejaVu Sans", "Liberation Sans", sans-serif' font-size="41" text-anchor="start" fill="#000" >(e)</text>
<text x="1268.80" y="705.20" font-family='"Liberation Sans", Arial, sans-serif' font-size="35" font-style="italic" fill="#000">d</text>
<text x="1298.60" y="705.20" font-family='"Liberation Sans", Arial, sans-serif' font-size="35" fill="#000">(nm)</text>
<g transform="translate(1077.40,568.10) rotate(-90)" font-family='"Liberation Sans", Arial, sans-serif' font-size="31" fill="#000"><text x="0" y="0" font-family='"Liberation Serif", "DejaVu Serif", serif' font-size="34.7">&#955;</text><text x="24.60" y="0">(nm)</text></g>
</svg>
</body></html>
